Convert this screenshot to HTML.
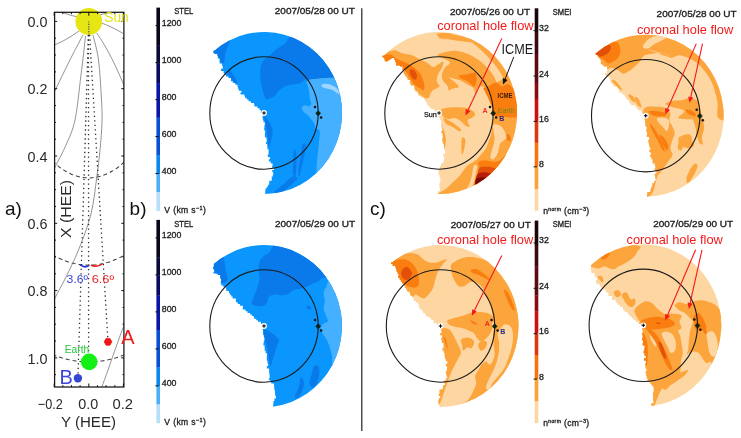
<!DOCTYPE html>
<html><head><meta charset="utf-8"><title>figure</title>
<style>
html,body{margin:0;padding:0;background:#fff;}
body{width:741px;height:438px;overflow:hidden;}
svg{display:block;}
text{font-family:"Liberation Sans",sans-serif;}
</style></head><body>
<svg width="741" height="438" viewBox="0 0 741 438">
<rect width="741" height="438" fill="#fff"/>
<clipPath id="cl1"><path d="M214.2 50.7 A78.0 81.0 0 1 1 264.6 194.0 L264.6 194.0 L265.2 194.0 L265.2 190.6 L265.4 190.6 L265.4 188.6 L266.7 188.6 L266.7 186.7 L267.9 186.7 L267.9 184.7 L269.2 184.7 L269.2 182.7 L269.3 182.7 L269.3 180.7 L271.8 180.7 L271.8 178.7 L271.7 178.7 L271.7 176.5 L272.8 176.5 L272.8 174.4 L273.2 174.4 L273.2 172.2 L272.3 172.2 L272.3 170.0 L274.1 170.0 L274.1 167.9 L272.2 167.9 L272.2 165.7 L272.6 165.7 L272.6 163.5 L270.7 163.5 L270.7 161.4 L268.9 161.4 L268.9 159.2 L269.9 159.2 L269.9 157.0 L267.8 157.0 L267.8 154.4 L268.6 154.4 L268.6 151.8 L268.6 151.8 L268.6 149.2 L267.4 149.2 L267.4 146.6 L267.2 146.6 L267.2 144.0 L266.0 144.0 L266.0 141.9 L266.7 141.9 L266.7 139.7 L266.5 139.7 L266.5 137.5 L264.9 137.5 L264.9 135.4 L264.9 135.4 L264.9 133.2 L265.1 133.2 L265.1 130.5 L264.2 130.5 L264.2 127.8 L264.4 127.8 L264.4 125.1 L264.8 125.1 L264.8 122.3 L263.4 122.3 L263.4 120.0 L262.8 120.0 L262.8 117.7 L262.5 117.7 L262.5 115.3 L263.5 115.3 L264.0 113.0 L260.8 113.0 L260.8 110.0 L259.5 110.0 L259.5 108.2 L257.4 108.2 L257.4 106.5 L254.5 106.5 L254.5 104.8 L254.1 104.8 L254.1 103.0 L250.9 103.0 L250.9 101.3 L248.5 101.3 L248.5 99.6 L246.6 99.6 L246.6 97.8 L245.0 97.8 L245.0 96.1 L244.4 96.1 L244.4 94.4 L240.5 94.4 L240.5 92.6 L241.5 92.6 L241.5 90.7 L238.8 90.7 L238.8 88.7 L237.9 88.7 L237.9 86.8 L237.5 86.8 L237.5 84.8 L235.4 84.8 L235.4 82.9 L232.8 82.9 L232.8 81.2 L230.9 81.2 L230.9 79.6 L231.0 79.6 L231.0 78.0 L228.4 78.0 L228.4 76.4 L226.0 76.4 L226.0 74.7 L224.3 74.7 L224.3 73.1 L223.6 73.1 L223.6 70.9 L221.0 70.9 L221.0 68.8 L222.7 68.8 L222.7 66.1 L222.1 66.1 L222.1 63.4 L219.6 63.4 L219.6 61.2 L219.5 61.2 L219.5 58.5 L217.8 58.5 L217.8 55.8 L217.4 55.8 L217.4 54.1 L214.4 54.1 L214.4 52.4 L213.1 52.4 L213.1 50.7Z"/></clipPath>
<g clip-path="url(#cl1)">
<rect x="184.0" y="30.0" width="160.0" height="166.0" fill="#0a96fc"/>
<path d="M213.0 52.5 C214.5 49.7 225.0 42.2 227.8 40.6 C230.5 39.0 229.6 40.8 229.3 42.8 C228.9 44.8 226.4 49.3 225.6 52.5 C224.8 55.8 224.9 60.5 224.3 62.3 C223.6 64.0 222.5 63.8 221.7 62.9 C220.8 62.1 220.5 59.0 219.1 57.3 C217.6 55.6 211.6 55.3 213.0 52.5Z" fill="#0a7aea" />
<path d="M293.2 35.2 C288.5 35.2 287.6 41.3 284.6 43.8 C281.5 46.4 277.3 48.4 274.8 50.4 C272.3 52.3 271.2 54.1 269.4 55.8 C267.6 57.4 265.4 58.3 264.0 60.1 C262.5 61.9 261.3 63.9 260.7 66.6 C260.1 69.3 260.1 72.9 260.3 76.4 C260.5 79.8 261.2 84.1 261.8 87.2 C262.4 90.3 263.2 92.8 264.0 94.8 C264.7 96.8 265.0 98.6 266.1 99.1 C267.2 99.7 269.0 98.6 270.5 98.0 C271.9 97.5 273.4 97.1 274.8 95.9 C276.2 94.6 277.3 92.1 279.1 90.5 C280.9 88.8 283.3 87.1 285.6 86.1 C288.0 85.1 290.7 85.1 293.2 84.6 C295.8 84.1 298.6 83.8 300.8 82.9 C303.0 81.9 305.0 78.8 306.2 79.0 C307.5 79.2 307.5 82.8 308.4 84.0 C309.3 85.1 310.4 85.8 311.7 86.1 C312.9 86.5 314.4 86.7 316.0 86.1 C317.6 85.6 319.4 83.6 321.4 82.9 C323.4 82.1 325.0 81.8 327.9 81.8 C330.8 81.8 336.9 84.9 338.8 82.9 C340.6 80.9 340.6 74.2 338.8 69.9 C336.9 65.5 332.2 61.2 327.9 56.9 C323.6 52.5 318.5 47.5 312.7 43.8 C307.0 40.2 297.9 35.2 293.2 35.2Z" fill="#0a7aea" />
<path d="M306.5 82.0 C306.9 81.0 308.0 80.0 309.8 79.5 C311.6 79.0 314.8 79.0 317.3 78.7 C319.8 78.5 322.0 78.2 324.7 78.0 C327.4 77.8 330.2 77.7 333.6 77.7 C337.0 77.7 341.9 74.3 345.0 78.0 C348.1 81.7 350.8 88.0 352.0 100.0 C353.2 112.0 354.9 139.8 352.0 150.0 C349.1 160.2 340.0 157.5 334.4 161.4 C328.8 165.3 321.2 172.4 318.2 173.5 C315.2 174.6 316.7 170.7 316.6 167.9 C316.5 165.2 317.1 161.0 317.5 157.0 C317.9 153.0 318.4 148.3 318.8 144.0 C319.2 139.7 320.2 133.6 319.7 131.0 C319.2 128.4 316.7 129.6 315.8 128.4 C314.9 127.2 315.1 125.5 314.3 124.0 C313.6 122.5 312.3 120.9 311.3 119.5 C310.3 118.1 309.6 117.0 308.4 115.8 C307.2 114.6 305.0 113.3 303.9 112.1 C302.8 110.9 301.7 109.5 301.7 108.4 C301.7 107.3 302.7 105.8 303.9 105.4 C305.1 105.0 307.9 106.6 309.1 106.2 C310.3 105.8 311.2 104.5 311.3 103.2 C311.4 102.0 310.2 100.7 309.8 98.7 C309.4 96.7 309.5 93.5 309.1 91.3 C308.7 89.1 308.0 87.0 307.6 85.5 C307.2 84.0 306.1 83.0 306.5 82.0Z" fill="#44b0ff" />
<path d="M321.7 84.6 C322.6 84.1 325.6 83.7 327.6 83.9 C329.6 84.2 331.9 85.1 333.6 86.1 C335.3 87.1 337.0 88.4 338.0 89.8 C339.0 91.2 339.8 93.8 339.5 94.3 C339.2 94.8 337.7 93.5 336.5 92.8 C335.3 92.0 333.8 90.5 332.1 89.8 C330.4 89.1 327.8 88.9 326.2 88.4 C324.6 87.9 323.1 87.5 322.4 86.9 C321.6 86.3 320.8 85.1 321.7 84.6Z" fill="#9ed6ff" />
<path d="M227.9 70.2 C228.3 69.8 230.0 70.2 231.5 72.0 C233.0 73.8 236.2 79.1 237.0 81.1 C237.8 83.1 236.9 84.1 236.1 83.9 C235.3 83.8 233.6 81.7 232.4 80.2 C231.2 78.7 229.6 76.4 228.8 74.7 C228.1 73.0 227.5 70.7 227.9 70.2Z" fill="#0a7aea" />
<path d="M293.7 151.0 C294.1 149.2 295.4 148.8 295.8 150.5 C296.3 152.3 296.5 157.0 296.5 161.4 C296.4 165.7 296.0 174.7 295.4 176.5 C294.8 178.4 293.2 174.7 292.8 172.2 C292.4 169.7 293.1 164.9 293.2 161.4 C293.4 157.8 293.2 152.8 293.7 151.0Z" fill="#0a7aea" />
<path d="M302.3 145.1 C303.2 143.1 305.4 142.4 305.8 144.0 C306.2 145.7 305.1 151.3 304.5 154.9 C303.8 158.5 302.8 162.1 301.9 165.7 C301.0 169.3 299.8 176.2 299.3 176.5 C298.8 176.9 298.4 171.3 298.6 167.9 C298.9 164.4 300.2 159.7 300.8 155.9 C301.4 152.2 301.5 147.1 302.3 145.1Z" fill="#0a7aea" />
<path d="M264.2 115.8 C264.4 114.6 266.2 117.6 267.2 119.1 C268.3 120.5 269.6 122.3 270.5 124.5 C271.4 126.7 272.5 129.4 272.6 132.1 C272.7 134.8 271.7 138.4 271.1 140.8 C270.5 143.1 269.5 146.7 268.9 146.2 C268.4 145.7 268.1 140.8 267.6 137.5 C267.2 134.3 266.7 130.3 266.1 126.7 C265.5 123.1 264.0 117.1 264.2 115.8Z" fill="#0a7aea" />
<path d="M274.8 191.3 C275.5 189.8 279.7 187.5 282.4 185.2 C285.1 182.9 288.9 179.1 291.1 177.6 C293.2 176.2 294.5 176.2 295.4 176.5 C296.3 176.9 297.9 177.8 296.5 179.8 C295.0 181.8 289.8 186.1 286.7 188.5 C283.6 190.8 280.0 193.4 278.0 193.9 C276.1 194.4 274.1 192.7 274.8 191.3Z" fill="#0a7aea" />
</g>
<clipPath id="cl2"><path d="M213.5 264.3 A78.0 81.0 0 1 1 273.8 406.4 L273.8 406.4 L273.1 406.4 L273.1 403.7 L273.5 403.7 L273.5 401.1 L274.4 401.1 L274.4 398.5 L275.9 398.5 L275.9 395.9 L275.2 395.9 L275.2 393.2 L275.0 393.2 L275.0 390.5 L274.4 390.5 L274.4 387.8 L274.1 387.8 L274.1 385.0 L274.0 385.0 L274.0 383.4 L271.2 383.4 L271.2 381.8 L270.4 381.8 L270.4 380.2 L268.9 380.2 L268.9 378.5 L269.6 378.5 L269.6 376.0 L269.6 376.0 L269.6 373.5 L269.1 373.5 L269.1 370.9 L269.1 370.9 L269.1 368.4 L266.8 368.4 L266.8 365.9 L268.1 365.9 L268.1 363.4 L267.5 363.4 L267.5 360.8 L266.8 360.8 L266.8 358.3 L266.8 358.3 L266.8 355.8 L267.0 355.8 L267.0 353.2 L265.6 353.2 L265.6 350.7 L264.7 350.7 L264.7 348.2 L264.6 348.2 L264.6 345.6 L263.4 345.6 L263.4 343.0 L263.8 343.0 L263.8 340.4 L264.4 340.4 L264.4 337.8 L263.9 337.8 L263.9 335.2 L263.1 335.2 L263.1 332.9 L263.0 332.9 L263.0 330.6 L262.7 330.6 L262.7 328.3 L262.5 328.3 L264.0 326.0 L262.8 326.0 L262.8 323.9 L261.0 323.9 L261.0 321.7 L257.9 321.7 L257.9 320.3 L256.2 320.3 L256.2 318.8 L254.1 318.8 L254.1 317.4 L253.7 317.4 L253.7 315.9 L251.8 315.9 L251.8 314.5 L250.1 314.5 L250.1 313.0 L247.5 313.0 L247.5 311.2 L245.5 311.2 L245.5 309.4 L242.7 309.4 L242.7 307.6 L242.9 307.6 L242.9 305.8 L239.9 305.8 L239.9 304.0 L237.7 304.0 L237.7 302.2 L235.9 302.2 L235.9 300.4 L235.9 300.4 L235.9 298.5 L232.6 298.5 L232.6 296.6 L231.2 296.6 L231.2 294.8 L229.8 294.8 L229.8 292.9 L229.0 292.9 L229.0 291.1 L226.3 291.1 L226.3 289.2 L226.0 289.2 L226.0 287.3 L223.4 287.3 L223.4 285.4 L221.3 285.4 L221.3 283.5 L220.7 283.5 L220.7 281.6 L221.1 281.6 L221.1 278.4 L220.3 278.4 L220.3 275.1 L217.7 275.1 L217.7 273.5 L213.4 273.5 L213.4 271.9 L214.3 271.9 L214.3 269.3 L213.3 269.3 L213.3 266.8 L213.9 266.8 L213.9 264.3Z"/></clipPath>
<g clip-path="url(#cl2)">
<rect x="184.0" y="243.0" width="160.0" height="166.0" fill="#0a96fc"/>
<path d="M211.9 264.3 C213.4 261.7 220.5 255.8 222.8 256.7 C225.0 257.6 224.8 265.9 225.6 269.7 C226.4 273.5 228.0 277.3 227.8 279.4 C227.5 281.6 225.5 282.2 224.3 282.7 C223.1 283.2 221.4 283.4 220.6 282.3 C219.8 281.1 220.6 277.4 219.5 275.8 C218.4 274.1 215.4 274.2 214.1 272.3 C212.8 270.4 210.5 266.9 211.9 264.3Z" fill="#0a7aea" />
<path d="M277.0 243.7 C271.5 244.4 271.7 250.2 269.4 252.3 C267.0 254.5 264.6 254.9 262.9 256.7 C261.1 258.5 259.7 260.8 259.0 263.2 C258.2 265.5 258.4 268.2 258.5 270.8 C258.6 273.3 259.8 275.7 259.6 278.4 C259.4 281.1 258.4 284.1 257.5 287.0 C256.5 289.9 255.2 293.0 254.2 295.7 C253.2 298.4 251.4 301.7 251.6 303.3 C251.8 304.9 253.4 305.0 255.3 305.5 C257.2 305.9 260.9 306.7 262.9 306.1 C264.9 305.6 266.2 303.8 267.2 302.2 C268.2 300.7 267.7 298.1 268.9 296.8 C270.2 295.5 272.6 294.9 274.8 294.6 C277.0 294.4 280.0 295.5 282.4 295.3 C284.7 295.1 287.1 294.4 288.9 293.5 C290.7 292.7 291.4 291.1 293.2 290.3 C295.0 289.5 297.6 289.3 299.7 288.8 C301.9 288.2 304.1 287.9 306.2 287.0 C308.4 286.2 310.7 284.7 312.7 283.8 C314.7 282.9 316.7 282.5 318.2 281.6 C319.6 280.7 320.0 279.1 321.4 278.4 C322.9 277.6 325.0 277.3 326.8 277.3 C328.6 277.3 332.1 280.0 332.2 278.4 C332.4 276.7 330.4 271.1 327.9 267.5 C325.4 263.9 321.4 259.9 317.1 256.7 C312.7 253.4 308.6 250.2 301.9 248.0 C295.2 245.8 282.4 242.9 277.0 243.7Z" fill="#0a7aea" />
<path d="M329.0 278.5 C327.5 280.9 327.7 283.0 326.8 285.4 C325.9 287.8 324.0 290.0 323.7 292.6 C323.4 295.2 324.8 298.1 324.8 300.8 C324.8 303.5 323.5 306.6 323.7 309.0 C323.9 311.4 325.1 313.1 325.8 315.2 C326.5 317.2 328.2 319.9 327.9 321.3 C327.5 322.7 324.9 322.4 323.7 323.4 C322.5 324.4 320.9 325.8 320.7 327.5 C320.5 329.2 321.7 331.6 322.7 333.7 C323.7 335.8 325.6 337.4 326.8 339.8 C328.0 342.2 329.0 345.3 329.9 348.0 C330.8 350.7 331.4 352.4 332.0 356.2 C332.6 359.9 331.2 369.0 333.4 370.5 C335.6 372.0 341.9 370.1 345.0 365.0 C348.1 359.9 350.8 350.8 352.0 340.0 C353.2 329.2 353.2 310.0 352.0 300.0 C350.8 290.0 347.7 284.8 345.0 280.0 C342.3 275.2 338.7 271.2 336.0 271.0 C333.3 270.8 330.5 276.1 329.0 278.5Z" fill="#44b0ff" />
<path d="M306.7 306.5 C307.1 306.0 309.4 305.7 310.1 306.1 C310.9 306.5 311.5 308.2 311.0 308.7 C310.5 309.2 308.0 309.5 307.3 309.1 C306.6 308.8 306.2 307.1 306.7 306.5Z" fill="#0a7aea" />
<path d="M264.2 329.8 C265.3 328.7 269.6 331.9 271.5 333.0 C273.5 334.1 274.6 335.0 275.9 336.3 C277.1 337.5 279.0 339.0 279.1 340.6 C279.3 342.2 277.7 344.0 277.0 346.0 C276.2 348.0 275.5 350.2 274.8 352.5 C274.1 354.9 273.4 357.8 272.6 360.1 C271.9 362.5 271.1 366.8 270.5 366.6 C269.8 366.4 269.5 362.1 268.9 359.0 C268.4 356.0 267.9 351.4 267.2 348.2 C266.6 344.9 265.5 342.6 265.0 339.5 C264.5 336.4 263.1 330.8 264.2 329.8Z" fill="#0a7aea" />
<path d="M313.8 366.6 C314.9 365.2 317.3 364.3 318.2 365.5 C319.1 366.8 319.4 371.3 319.2 374.2 C319.1 377.1 318.2 380.7 317.1 382.9 C316.0 385.0 314.0 387.2 312.7 387.2 C311.5 387.2 309.7 385.0 309.5 382.9 C309.3 380.7 310.9 376.9 311.7 374.2 C312.4 371.5 312.7 368.1 313.8 366.6Z" fill="#0a7aea" />
<path d="M300.8 377.5 C301.7 376.7 303.9 380.5 304.1 382.9 C304.2 385.2 303.0 389.0 301.9 391.5 C300.8 394.1 298.7 397.3 297.6 398.0 C296.4 398.8 294.8 398.1 295.0 396.3 C295.1 394.5 297.7 390.4 298.6 387.2 C299.6 384.1 299.9 378.2 300.8 377.5Z" fill="#0a7aea" />
</g>
<clipPath id="cl3"><path d="M384.0 55.6 A78.0 81.0 0 1 1 439.6 194.0 L439.6 194.0 L438.0 194.0 L438.0 191.3 L439.9 191.3 L439.9 188.5 L439.6 188.5 L439.6 185.8 L439.3 185.8 L439.3 183.0 L440.2 183.0 L440.2 180.4 L440.4 180.4 L440.4 177.8 L439.7 177.8 L439.7 175.2 L438.6 175.2 L438.6 172.6 L438.6 172.6 L438.6 170.0 L439.4 170.0 L439.4 167.9 L440.0 167.9 L440.0 165.7 L441.0 165.7 L441.0 163.5 L443.1 163.5 L443.1 161.4 L443.8 161.4 L443.8 159.2 L444.1 159.2 L444.1 156.6 L443.4 156.6 L443.4 154.0 L445.1 154.0 L445.1 151.4 L444.8 151.4 L444.8 148.8 L444.2 148.8 L444.2 146.2 L443.8 146.2 L443.8 143.6 L442.8 143.6 L442.8 141.0 L442.3 141.0 L442.3 138.4 L442.7 138.4 L442.7 135.8 L442.7 135.8 L442.7 133.2 L441.5 133.2 L441.5 131.0 L442.4 131.0 L442.4 128.8 L442.1 128.8 L442.1 126.7 L441.6 126.7 L441.6 124.5 L441.3 124.5 L441.3 122.3 L441.1 122.3 L441.1 120.0 L440.2 120.0 L440.2 117.7 L438.2 117.7 L438.2 115.3 L437.9 115.3 L439.0 113.0 L437.9 113.0 L437.9 112.1 L435.4 112.1 L435.4 110.5 L434.1 110.5 L434.1 108.9 L430.7 108.9 L430.7 107.3 L429.3 107.3 L429.3 105.6 L427.3 105.6 L427.3 103.7 L426.6 103.7 L426.6 101.7 L425.3 101.7 L425.3 99.8 L423.9 99.8 L423.9 97.8 L421.0 97.8 L421.0 95.9 L418.2 95.9 L418.2 93.7 L417.8 93.7 L417.8 91.5 L415.2 91.5 L415.2 89.4 L414.5 89.4 L414.5 87.2 L414.3 87.2 L414.3 85.4 L410.7 85.4 L410.7 83.6 L409.8 83.6 L409.8 81.8 L410.2 81.8 L410.2 80.0 L407.5 80.0 L407.5 78.2 L406.5 78.2 L406.5 76.4 L404.8 76.4 L404.8 74.4 L403.7 74.4 L403.7 72.5 L403.6 72.5 L403.6 70.5 L402.4 70.5 L402.4 68.6 L402.7 68.6 L402.7 66.6 L400.1 66.6 L400.1 65.5 L396.2 65.5 L396.2 64.4 L396.0 64.4 L396.0 62.3 L395.3 62.3 L395.3 60.1 L394.3 60.1 L394.3 57.9 L391.5 57.9 L391.5 59.0 L390.2 59.0 L390.2 60.1 L388.3 60.1 L388.3 61.2 L384.8 61.2 L384.8 59.3 L384.3 59.3 L384.3 57.5 L382.3 57.5 L382.3 55.6Z"/></clipPath>
<g clip-path="url(#cl3)">
<rect x="359.0" y="30.0" width="160.0" height="166.0" fill="#fdd6a2"/>
<path d="M380.8 55.2 C382.6 53.0 389.9 50.7 393.4 50.4 C397.0 50.0 399.1 52.5 402.2 53.3 C405.2 54.1 408.9 54.2 411.9 55.2 C414.8 56.2 417.0 57.8 419.6 59.1 C422.2 60.4 425.1 61.7 427.4 63.0 C429.6 64.3 431.2 66.7 433.2 66.9 C435.1 67.0 437.3 64.8 439.0 63.9 C440.7 63.1 442.8 61.0 443.3 61.6 C443.8 62.3 442.8 65.7 441.9 67.8 C441.0 70.0 438.9 72.3 438.0 74.6 C437.2 76.9 436.5 79.5 436.7 81.4 C436.9 83.3 440.0 84.8 439.4 86.2 C438.8 87.7 434.7 88.8 433.2 90.1 C431.7 91.4 430.9 92.8 430.3 94.0 C429.6 95.2 430.1 96.6 429.3 97.3 C428.6 98.0 427.3 98.7 425.8 98.3 C424.4 97.9 422.9 96.8 420.6 95.0 C418.3 93.1 414.3 90.3 411.9 87.2 C409.4 84.1 408.3 79.6 406.0 76.6 C403.8 73.5 400.5 71.1 398.3 68.8 C396.0 66.5 395.0 63.8 392.5 63.0 C389.9 62.2 384.7 65.2 382.8 63.9 C380.8 62.7 379.0 57.5 380.8 55.2Z" fill="#fca53c" />
<path d="M437.1 33.9 C438.2 33.1 443.5 33.2 446.8 33.1 C450.0 33.0 456.0 33.4 456.5 33.5 C456.9 33.6 447.7 32.8 449.4 33.5 C451.1 34.2 463.0 36.3 466.9 37.8 C470.7 39.2 473.6 41.5 472.3 42.0 C471.0 42.5 463.2 41.4 459.1 40.9 C455.0 40.3 451.0 39.3 447.5 38.9 C443.9 38.5 437.9 38.4 437.8 38.5 C437.6 38.7 446.4 39.8 446.8 39.7 C447.1 39.6 441.6 38.7 440.0 37.8 C438.4 36.8 435.9 34.7 437.1 33.9Z" fill="#fca53c" />
<path d="M449.7 62.0 C450.9 64.1 446.1 65.7 444.8 67.8 C443.5 69.9 442.2 72.5 441.9 74.6 C441.6 76.7 441.9 78.5 442.9 80.4 C443.9 82.4 446.8 84.6 447.7 86.2 C448.7 87.9 447.9 90.1 448.7 90.5 C449.5 90.9 451.0 89.4 452.6 88.6 C454.2 87.8 460.2 88.5 458.4 85.7 C456.6 82.9 443.5 73.2 441.6 71.7 C439.8 70.2 445.5 75.4 447.5 76.6 C449.4 77.7 451.0 77.8 453.3 78.5 C455.5 79.2 458.4 79.7 461.0 80.8 C463.6 82.0 466.7 84.1 468.8 85.3 C470.9 86.5 472.5 86.7 473.6 88.2 C474.8 89.6 474.9 94.0 475.6 94.0 C476.2 94.0 476.6 89.5 477.5 88.2 C478.5 86.9 479.9 86.2 481.4 86.2 C482.9 86.2 484.5 87.9 486.2 88.2 C488.0 88.5 490.1 88.8 492.1 88.2 C494.0 87.5 497.1 85.1 497.9 84.3 C498.7 83.5 497.6 84.6 496.9 83.3 C496.3 82.0 495.5 79.0 494.0 76.6 C492.6 74.1 490.6 71.4 488.2 68.8 C485.8 66.1 482.7 63.1 479.5 60.6 C476.2 58.2 472.5 55.9 468.8 54.2 C465.1 52.6 460.7 51.4 457.2 50.9 C453.6 50.5 450.7 51.0 447.5 51.7 C444.2 52.4 437.4 53.5 437.8 55.2 C438.1 56.9 448.5 59.9 449.7 62.0Z" fill="#fca53c" />
<path d="M467.8 37.4 C469.3 37.6 476.1 40.8 480.4 43.6 C484.8 46.4 489.5 50.2 494.0 54.2 C498.5 58.3 503.7 62.8 507.6 67.8 C511.5 72.8 514.7 79.0 517.3 84.3 C519.9 89.6 521.8 94.5 523.1 99.8 C524.4 105.2 529.9 113.6 525.0 116.3 C520.2 119.1 499.5 117.8 494.0 116.3 C488.5 114.9 493.0 110.7 492.1 107.6 C491.1 104.5 489.3 100.5 488.2 97.9 C487.1 95.3 485.3 93.9 485.3 92.1 C485.3 90.2 486.4 88.2 488.2 86.6 C490.0 85.1 493.5 84.1 495.9 82.8 C498.4 81.4 502.1 80.3 502.7 78.5 C503.4 76.6 501.1 74.0 499.8 71.7 C498.5 69.4 496.9 67.3 495.0 64.9 C493.0 62.5 490.6 59.7 488.2 57.2 C485.8 54.6 483.2 51.9 480.4 49.4 C477.7 46.9 473.8 44.0 471.7 42.0 C469.6 40.0 466.4 37.1 467.8 37.4Z" fill="#fca53c" />
<path d="M441.5 109.3 C443.5 107.9 450.2 107.3 454.5 107.2 C458.8 107.0 464.1 107.2 467.5 108.3 C471.0 109.3 474.4 112.0 475.1 113.7 C475.8 115.3 473.1 116.9 471.9 118.0 C470.6 119.1 467.9 118.7 467.5 120.2 C467.2 121.6 470.0 125.8 469.7 126.7 C469.3 127.6 466.8 126.5 465.4 125.6 C463.9 124.7 462.8 122.5 461.0 121.3 C459.2 120.0 456.7 118.4 454.5 118.0 C452.3 117.6 450.0 119.5 448.0 119.1 C446.0 118.7 443.7 117.5 442.6 115.8 C441.5 114.2 439.5 110.8 441.5 109.3Z" fill="#fca53c" />
<path d="M443.7 118.0 C444.4 117.6 448.0 120.0 450.2 121.3 C452.3 122.5 454.9 124.2 456.7 125.6 C458.5 127.0 460.7 129.0 461.0 129.9 C461.4 130.8 460.3 131.6 458.8 131.0 C457.4 130.5 454.5 127.9 452.3 126.7 C450.2 125.4 447.3 124.9 445.8 123.4 C444.4 122.0 442.9 118.4 443.7 118.0Z" fill="#fca53c" />
<path d="M437.2 116.9 C437.8 116.9 440.2 121.8 441.5 124.5 C442.8 127.2 444.0 130.3 444.8 133.2 C445.5 136.1 446.0 138.6 445.8 141.9 C445.7 145.1 444.4 149.4 443.7 152.7 C442.9 155.9 442.6 158.5 441.5 161.4 C440.4 164.3 438.1 170.8 437.2 170.0 C436.3 169.3 435.5 161.4 436.1 157.0 C436.6 152.7 439.7 148.0 440.4 144.0 C441.1 140.0 440.7 136.4 440.2 133.2 C439.7 129.9 438.1 127.2 437.6 124.5 C437.1 121.8 436.5 116.9 437.2 116.9Z" fill="#fca53c" />
<path d="M462.1 137.5 C462.8 136.4 465.0 137.9 465.4 139.7 C465.7 141.5 464.8 145.8 464.3 148.4 C463.7 150.9 462.6 155.2 462.1 154.9 C461.6 154.5 461.4 149.1 461.4 146.2 C461.4 143.3 461.4 138.6 462.1 137.5Z" fill="#fca53c" />
<path d="M492.5 120.2 C491.4 123.1 492.3 127.8 491.8 131.0 C491.3 134.3 490.2 136.8 489.2 139.7 C488.2 142.6 487.2 146.0 485.9 148.4 C484.7 150.7 483.1 152.0 481.6 153.8 C480.1 155.6 478.6 157.8 477.1 159.2 C475.5 160.6 474.0 161.4 472.5 162.5 C471.0 163.5 469.4 164.0 468.0 165.3 C466.5 166.5 465.3 168.3 464.1 169.8 C462.8 171.3 462.0 172.7 460.6 174.4 C459.2 176.0 457.4 178.0 455.6 179.8 C453.8 181.6 451.7 183.7 449.7 185.4 C447.8 187.1 445.9 188.7 444.1 190.0 C442.3 191.3 440.8 192.0 438.9 193.0 C437.0 194.0 433.5 194.1 432.8 196.1 C432.2 198.0 427.4 204.4 435.0 204.7 C442.6 205.1 466.8 203.3 478.4 198.2 C489.9 193.2 497.1 182.7 504.4 174.4 C511.6 166.1 518.1 156.3 521.7 148.4 C525.3 140.4 525.3 133.9 526.1 126.7 C526.8 119.5 530.4 108.6 526.1 105.0 C521.7 101.4 504.7 103.6 500.0 105.0 C495.3 106.4 499.1 111.1 497.9 113.7 C496.6 116.2 493.5 117.3 492.5 120.2Z" fill="#fca53c" />
<path d="M493.5 124.5 C494.6 123.6 498.2 124.5 500.0 125.6 C501.8 126.7 503.3 129.0 504.4 131.0 C505.5 133.0 506.7 135.9 506.5 137.5 C506.4 139.1 504.4 139.7 503.3 140.8 C502.2 141.9 500.9 142.0 500.0 144.0 C499.1 146.0 499.0 150.2 497.9 152.7 C496.8 155.2 494.8 158.5 493.5 159.2 C492.3 159.9 490.5 158.8 490.3 157.0 C490.1 155.2 491.7 151.3 492.5 148.4 C493.2 145.5 494.4 142.6 494.6 139.7 C494.8 136.8 493.7 133.5 493.5 131.0 C493.4 128.5 492.5 125.4 493.5 124.5Z" fill="#fdd6a2" />
<path d="M473.8 165.9 C474.7 164.3 476.8 164.3 477.1 165.9 C477.3 167.5 476.0 172.4 475.3 175.5 C474.7 178.5 474.2 181.4 473.2 184.1 C472.1 186.9 470.6 190.8 469.3 192.2 C467.9 193.5 465.1 193.5 465.1 192.2 C465.1 190.8 468.1 186.9 469.3 184.1 C470.4 181.4 471.1 178.5 471.9 175.5 C472.6 172.4 472.9 167.5 473.8 165.9Z" fill="#fdd6a2" />
<path d="M382.8 56.2 C383.7 54.9 388.1 54.0 390.5 54.4 C392.9 54.9 395.0 57.8 397.3 59.1 C399.6 60.4 401.7 60.9 404.1 62.0 C406.5 63.1 409.4 64.3 411.9 65.9 C414.3 67.5 416.9 69.6 418.6 71.7 C420.4 73.8 421.6 76.1 422.5 78.5 C423.5 80.9 424.3 84.2 424.5 86.2 C424.6 88.3 424.1 90.1 423.5 90.5 C422.8 90.9 422.0 89.5 420.6 88.6 C419.1 87.7 416.5 87.0 414.8 85.3 C413.0 83.6 411.4 80.8 409.9 78.5 C408.5 76.2 407.5 73.5 406.0 71.7 C404.6 69.9 402.8 68.8 401.2 67.8 C399.6 66.9 398.1 67.0 396.3 65.9 C394.6 64.8 392.5 61.7 390.5 61.0 C388.6 60.4 386.0 62.8 384.7 62.0 C383.4 61.2 381.8 57.4 382.8 56.2Z" fill="#fa7d0f" />
<path d="M459.1 75.6 C460.2 74.9 465.2 74.6 467.8 74.2 C470.5 73.8 473.5 72.2 475.0 73.1 C476.5 73.9 476.7 77.3 476.6 79.5 C476.4 81.7 475.7 85.9 474.2 86.2 C472.8 86.6 470.0 82.7 467.8 81.4 C465.6 80.1 462.5 79.5 461.0 78.5 C459.6 77.5 458.0 76.3 459.1 75.6Z" fill="#fa7d0f" />
<path d="M483.3 88.2 C483.8 87.2 486.1 87.2 488.2 86.2 C490.3 85.3 493.7 82.4 495.9 82.4 C498.2 82.4 499.8 86.0 501.8 86.2 C503.7 86.5 505.8 83.7 507.6 83.9 C509.4 84.2 510.8 85.8 512.4 87.8 C514.1 89.8 515.8 92.7 517.3 95.9 C518.7 99.2 520.2 104.2 521.2 107.6 C522.1 111.0 527.5 114.9 523.1 116.3 C518.7 117.8 500.2 117.8 495.0 116.3 C489.8 114.9 493.2 110.7 492.1 107.6 C490.9 104.5 489.3 100.5 488.2 97.9 C487.1 95.3 486.1 93.7 485.3 92.1 C484.5 90.5 482.9 89.2 483.3 88.2Z" fill="#fa7d0f" />
<path d="M506.5 134.3 C506.9 133.4 509.1 134.4 509.8 135.4 C510.5 136.3 511.2 138.8 510.9 139.7 C510.5 140.6 508.4 141.7 507.6 140.8 C506.9 139.9 506.2 135.2 506.5 134.3Z" fill="#fa7d0f" />
<path d="M478.4 162.5 C479.3 161.0 482.3 160.4 484.9 160.3 C487.4 160.2 491.0 161.8 493.5 161.8 C496.1 161.8 497.9 161.5 500.0 160.3 C502.2 159.1 504.7 155.2 506.5 154.4 C508.4 153.7 510.7 154.3 510.9 155.9 C511.1 157.6 509.3 161.9 507.6 164.6 C506.0 167.3 503.5 169.9 501.1 172.2 C498.8 174.6 495.9 176.9 493.5 178.7 C491.2 180.5 489.6 181.8 487.0 183.0 C484.5 184.3 480.6 185.9 478.4 186.3 C476.1 186.7 473.8 187.3 473.6 185.7 C473.4 184.0 476.3 179.3 477.3 176.5 C478.3 173.8 479.3 171.3 479.4 169.0 C479.6 166.6 477.5 163.9 478.4 162.5Z" fill="#fa7d0f" />
<path d="M409.9 69.8 C410.5 69.0 412.7 69.0 413.8 69.8 C414.9 70.6 416.3 73.0 416.7 74.6 C417.1 76.2 416.8 78.8 416.1 79.5 C415.5 80.1 413.8 79.4 412.8 78.5 C411.9 77.6 410.8 75.7 410.3 74.2 C409.8 72.8 409.3 70.5 409.9 69.8Z" fill="#e2500a" />
<path d="M479.4 167.9 C481.1 166.2 484.7 166.8 487.0 166.8 C489.4 166.8 491.7 167.3 493.5 167.9 C495.4 168.4 498.1 168.7 498.3 170.0 C498.5 171.4 496.3 174.3 494.6 176.1 C492.9 177.9 490.8 179.4 488.1 180.9 C485.4 182.3 480.2 185.5 478.4 184.8 C476.6 184.1 477.1 179.4 477.3 176.5 C477.5 173.7 477.8 169.5 479.4 167.9Z" fill="#e2500a" />
<path d="M477.3 174.4 C478.6 172.3 481.6 172.4 483.8 172.2 C485.9 172.0 488.7 172.9 490.3 173.3 C491.8 173.7 493.4 173.8 493.1 174.8 C492.9 175.9 490.7 178.2 488.8 179.6 C486.9 181.0 483.8 182.2 481.6 183.0 C479.4 183.9 476.5 186.2 475.8 184.8 C475.0 183.3 475.9 176.5 477.3 174.4Z" fill="#b81e08" />
<path d="M476.2 178.7 C477.2 177.5 479.9 177.7 481.6 177.6 C483.3 177.6 486.5 177.5 486.6 178.3 C486.7 179.0 484.1 181.1 482.3 182.2 C480.5 183.3 476.8 185.4 475.8 184.8 C474.7 184.2 475.2 179.9 476.2 178.7Z" fill="#7a0a08" />
</g>
<clipPath id="cl4"><path d="M595.9 53.3 A78.0 81.0 0 1 1 646.0 196.7 L646.0 196.7 L647.0 196.7 L647.0 194.3 L647.3 194.3 L647.3 191.9 L650.4 191.9 L650.4 189.6 L650.9 189.6 L650.9 187.4 L651.9 187.4 L651.9 185.2 L652.5 185.2 L652.5 183.0 L654.2 183.0 L654.2 180.9 L655.7 180.9 L655.7 178.7 L655.3 178.7 L655.3 176.1 L654.8 176.1 L654.8 173.5 L656.5 173.5 L656.5 170.9 L654.8 170.9 L654.8 168.3 L655.4 168.3 L655.4 165.7 L654.9 165.7 L654.9 163.5 L652.6 163.5 L652.6 161.4 L652.6 161.4 L652.6 159.2 L651.4 159.2 L651.4 157.0 L650.1 157.0 L650.1 154.9 L650.9 154.9 L650.9 152.3 L649.4 152.3 L649.4 149.8 L650.4 149.8 L650.4 147.3 L649.3 147.3 L649.3 144.7 L648.8 144.7 L648.8 142.2 L648.3 142.2 L648.3 139.7 L649.2 139.7 L649.2 137.1 L646.8 137.1 L646.8 134.5 L647.1 134.5 L647.1 131.9 L646.3 131.9 L646.3 129.3 L646.7 129.3 L646.7 126.7 L645.5 126.7 L645.5 124.5 L645.4 124.5 L645.4 122.3 L645.0 122.3 L645.0 120.1 L644.6 120.1 L644.6 117.9 L645.8 117.9 L645.7 115.7 L644.5 115.7 L644.5 113.9 L642.0 113.9 L642.0 112.1 L641.2 112.1 L641.2 110.4 L638.3 110.4 L638.3 108.7 L636.6 108.7 L636.6 106.9 L635.5 106.9 L635.5 105.2 L631.2 105.2 L631.2 103.5 L629.6 103.5 L629.6 101.7 L628.9 101.7 L628.9 99.9 L626.6 99.9 L626.6 98.0 L625.5 98.0 L625.5 96.2 L624.5 96.2 L624.5 94.4 L622.3 94.4 L622.3 92.6 L618.9 92.6 L618.9 90.7 L618.8 90.7 L618.8 88.7 L617.3 88.7 L617.3 86.8 L613.7 86.8 L613.7 84.8 L611.9 84.8 L611.9 82.9 L610.5 82.9 L610.5 80.9 L610.4 80.9 L610.4 79.0 L609.4 79.0 L609.4 77.0 L606.5 77.0 L606.5 75.1 L605.0 75.1 L605.0 73.1 L607.0 73.1 L607.0 69.9 L607.1 69.9 L607.1 66.6 L603.8 66.6 L603.8 65.5 L602.7 65.5 L602.7 64.4 L600.7 64.4 L600.7 62.3 L600.9 62.3 L600.9 60.1 L600.1 60.1 L600.1 58.4 L598.8 58.4 L598.8 56.7 L597.7 56.7 L597.7 55.0 L595.7 55.0 L595.7 53.3Z"/></clipPath>
<g clip-path="url(#cl4)">
<rect x="565.7" y="32.7" width="160.0" height="166.0" fill="#fdd6a2"/>
<path d="M592.8 53.3 C593.2 49.3 599.2 43.3 604.4 39.8 C609.6 36.2 617.3 33.9 623.8 32.0 C630.3 30.1 637.3 28.8 643.2 28.1 C649.1 27.5 651.8 26.8 659.4 28.1 C666.9 29.4 679.4 31.4 688.5 35.9 C697.5 40.4 706.9 47.5 713.7 55.3 C720.5 63.0 726.0 71.9 729.2 82.4 C732.5 92.9 734.9 112.3 733.1 118.3 C731.3 124.3 721.1 120.7 718.6 118.3 C716.0 115.9 718.1 107.8 717.6 103.8 C717.1 99.7 716.5 97.3 715.6 94.1 C714.8 90.8 714.0 87.4 712.7 84.4 C711.4 81.3 709.7 78.4 707.9 75.6 C706.1 72.9 704.3 70.3 702.1 67.9 C699.8 65.5 696.9 62.9 694.3 61.1 C691.7 59.3 689.1 58.2 686.6 57.2 C684.0 56.2 681.1 55.3 678.8 55.3 C676.5 55.3 675.2 57.4 673.0 57.2 C670.7 57.1 668.1 55.3 665.2 54.3 C662.3 53.3 658.4 52.2 655.5 51.4 C652.6 50.6 645.0 48.3 647.8 49.5 C650.6 50.6 669.2 57.4 672.3 58.2 C675.4 59.0 668.7 55.1 666.5 54.3 C664.2 53.5 661.6 53.3 658.7 53.3 C655.8 53.3 651.6 53.8 649.0 54.3 C646.4 54.8 644.6 55.1 643.2 56.2 C641.7 57.4 641.6 59.5 640.3 61.1 C639.0 62.7 637.2 64.3 635.4 65.9 C633.7 67.6 631.7 69.5 629.6 70.8 C627.5 72.1 624.6 73.7 622.8 73.7 C621.0 73.7 620.7 71.8 618.9 70.8 C617.2 69.8 614.4 68.1 612.2 67.9 C609.9 67.6 607.1 69.9 605.4 69.2 C603.6 68.6 603.6 66.7 601.5 64.0 C599.4 61.4 592.3 57.4 592.8 53.3Z" fill="#fca53c" />
<path d="M611.8 80.5 C611.3 79.3 614.3 79.9 616.0 81.5 C617.8 83.0 621.8 88.4 622.2 89.6 C622.7 90.8 620.7 90.2 618.9 88.6 C617.2 87.1 612.3 81.7 611.8 80.5Z" fill="#fca53c" />
<path d="M628.1 94.7 C628.3 93.9 631.4 94.7 632.7 96.0 C634.0 97.3 636.0 101.5 635.8 102.2 C635.6 102.9 632.8 101.5 631.6 100.3 C630.3 99.0 627.9 95.4 628.1 94.7Z" fill="#fca53c" />
<path d="M635.0 97.6 C635.2 96.5 637.4 97.3 638.5 98.9 C639.6 100.5 641.8 106.2 641.6 107.3 C641.4 108.3 638.5 106.7 637.4 105.1 C636.3 103.5 634.8 98.6 635.0 97.6Z" fill="#fca53c" />
<path d="M665.2 103.8 C665.5 102.8 670.1 101.5 673.0 100.9 C675.9 100.2 680.1 100.4 682.7 99.9 C685.3 99.4 686.6 98.1 688.5 97.9 C690.4 97.8 692.7 98.3 694.3 98.9 C695.9 99.6 697.2 100.0 698.2 101.8 C699.2 103.6 700.4 106.8 700.5 109.6 C700.7 112.3 702.8 116.9 699.2 118.3 C695.5 119.8 681.2 119.4 678.8 118.3 C676.4 117.2 684.6 113.1 684.6 111.5 C684.6 109.9 681.1 109.4 678.8 108.6 C676.5 107.8 673.3 107.5 671.0 106.7 C668.8 105.9 664.9 104.7 665.2 103.8Z" fill="#fca53c" />
<path d="M644.3 108.3 C646.7 105.7 653.7 106.7 657.3 106.7 C661.0 106.7 663.8 107.1 666.0 108.3 C668.2 109.4 669.8 111.7 670.4 113.7 C670.9 115.7 668.9 118.0 669.3 120.2 C669.6 122.3 671.6 124.5 672.5 126.7 C673.4 128.8 674.7 131.0 674.7 133.2 C674.7 135.4 673.2 137.2 672.5 139.7 C671.8 142.2 670.4 145.8 670.4 148.4 C670.4 150.9 672.9 152.7 672.5 154.9 C672.2 157.0 669.6 159.2 668.2 161.4 C666.7 163.5 665.1 166.1 663.8 167.9 C662.6 169.7 661.7 170.8 660.6 172.2 C659.5 173.7 658.6 173.3 657.3 176.5 C656.1 179.8 654.5 188.4 653.0 191.7 C651.6 195.0 650.1 195.3 648.7 196.5 C647.2 197.6 644.7 200.9 644.3 198.7 C644.0 196.4 645.1 187.5 646.5 183.0 C647.9 178.6 652.3 176.2 653.0 172.2 C653.7 168.2 651.9 162.1 650.8 159.2 C649.8 156.3 647.4 157.4 646.5 154.9 C645.6 152.3 645.8 148.0 645.4 144.0 C645.1 140.0 644.7 134.6 644.3 131.0 C644.0 127.4 643.3 126.1 643.3 122.3 C643.3 118.6 642.0 110.9 644.3 108.3Z" fill="#fca53c" />
<path d="M679.0 137.5 C680.4 136.3 684.6 134.6 686.6 134.3 C688.6 133.9 690.0 134.3 690.9 135.4 C691.9 136.4 691.5 139.1 692.0 140.8 C692.6 142.4 694.6 143.8 694.2 145.1 C693.8 146.4 691.7 148.0 689.9 148.4 C688.1 148.7 684.8 146.9 683.4 147.3 C681.9 147.6 682.1 150.3 681.2 150.5 C680.3 150.7 678.4 149.8 677.9 148.4 C677.5 146.9 678.4 143.7 678.6 141.9 C678.8 140.0 677.7 138.8 679.0 137.5Z" fill="#fca53c" />
<path d="M686.6 109.3 C687.3 108.4 690.0 107.9 692.0 108.3 C694.0 108.6 696.7 109.5 698.5 111.5 C700.3 113.5 702.0 117.3 702.9 120.2 C703.8 123.1 704.1 126.0 704.0 128.8 C703.8 131.7 702.0 135.0 701.8 137.5 C701.6 140.0 703.2 143.1 702.9 144.0 C702.5 144.9 700.6 144.4 699.6 142.9 C698.6 141.5 697.5 138.1 696.8 135.4 C696.1 132.6 696.1 129.6 695.3 126.7 C694.5 123.8 693.2 120.2 692.0 118.0 C690.8 115.8 689.0 115.1 688.1 113.7 C687.2 112.2 686.0 110.2 686.6 109.3Z" fill="#fca53c" />
<path d="M690.9 167.9 C692.0 166.4 694.2 163.9 695.3 163.5 C696.4 163.2 697.5 164.3 697.5 165.7 C697.5 167.1 696.4 169.9 695.3 172.2 C694.2 174.6 692.3 178.0 690.9 179.8 C689.6 181.6 688.0 183.4 687.3 183.0 C686.5 182.7 686.4 179.4 686.6 177.6 C686.9 175.8 688.1 173.8 688.8 172.2 C689.5 170.6 689.9 169.3 690.9 167.9Z" fill="#fca53c" />
<path d="M642.9 47.0 C642.8 45.6 645.1 42.2 646.9 40.5 C648.6 38.8 651.0 37.5 653.4 36.6 C655.8 35.8 659.1 35.4 661.5 35.4 C663.9 35.4 667.7 35.7 668.0 36.4 C668.3 37.1 665.3 38.5 663.1 39.7 C660.9 40.9 657.6 42.2 655.0 43.7 C652.4 45.2 649.7 48.1 647.7 48.6 C645.7 49.1 643.0 48.4 642.9 47.0Z" fill="#fdd6a2" />
<path d="M657.3 118.0 C658.6 117.3 664.0 117.3 666.0 118.0 C668.0 118.7 669.1 120.2 669.3 122.3 C669.4 124.5 668.2 130.3 667.1 131.0 C666.0 131.7 664.2 128.1 662.8 126.7 C661.3 125.2 659.3 123.8 658.4 122.3 C657.5 120.9 656.1 118.7 657.3 118.0Z" fill="#fdd6a2" />
<path d="M594.7 53.7 C596.2 51.5 604.6 46.0 608.3 44.0 C612.0 42.1 615.0 41.2 617.0 42.1 C619.0 43.0 620.0 47.1 620.3 49.5 C620.6 51.8 620.0 54.3 618.9 56.2 C617.9 58.2 615.9 59.9 614.1 61.1 C612.3 62.3 610.1 63.7 608.3 63.4 C606.5 63.2 604.9 60.5 603.4 59.5 C602.0 58.6 601.0 58.6 599.5 57.6 C598.1 56.6 593.2 56.0 594.7 53.7Z" fill="#fa7d0f" />
<path d="M685.6 109.6 C686.1 109.2 688.7 109.7 690.4 110.6 C692.2 111.4 695.9 113.6 696.2 114.4 C696.6 115.3 693.8 116.0 692.4 115.8 C690.9 115.6 688.7 114.1 687.5 113.1 C686.4 112.0 685.1 110.0 685.6 109.6Z" fill="#fa7d0f" />
<path d="M649.8 123.4 C649.8 122.5 651.6 124.7 653.0 126.7 C654.5 128.7 656.8 132.5 658.4 135.4 C660.1 138.2 661.7 141.3 662.8 144.0 C663.8 146.7 665.1 150.9 664.9 151.6 C664.8 152.3 662.9 150.3 661.7 148.4 C660.4 146.4 658.8 142.4 657.3 139.7 C655.9 137.0 654.3 134.8 653.0 132.1 C651.7 129.4 649.8 124.3 649.8 123.4Z" fill="#fa7d0f" />
<path d="M659.5 135.4 C659.7 134.3 662.4 135.9 663.8 137.5 C665.3 139.1 667.6 142.9 668.2 145.1 C668.7 147.3 668.0 150.7 667.1 150.5 C666.2 150.3 664.0 146.6 662.8 144.0 C661.5 141.5 659.3 136.4 659.5 135.4Z" fill="#fa7d0f" />
<path d="M648.7 111.5 C649.0 110.8 652.6 110.9 655.2 111.1 C657.7 111.3 662.0 111.8 663.8 112.6 C665.7 113.4 666.7 115.2 666.0 115.8 C665.3 116.5 661.7 116.3 659.5 116.3 C657.3 116.2 654.8 116.2 653.0 115.4 C651.2 114.6 648.3 112.2 648.7 111.5Z" fill="#fa7d0f" />
<path d="M688.8 110.4 C689.0 109.9 692.0 110.6 693.1 111.5 C694.2 112.4 695.5 115.3 695.3 115.8 C695.1 116.4 693.1 115.7 692.0 114.8 C690.9 113.9 688.6 111.0 688.8 110.4Z" fill="#fa7d0f" />
<path d="M595.7 53.3 C596.5 51.6 602.9 47.3 605.4 46.0 C607.9 44.7 609.9 44.7 610.6 45.6 C611.3 46.5 610.5 49.8 609.4 51.4 C608.4 53.0 605.9 54.4 604.4 55.3 C602.9 56.1 602.0 56.8 600.5 56.4 C599.1 56.1 594.9 55.1 595.7 53.3Z" fill="#e2500a" />
</g>
<clipPath id="cl5"><path d="M392.4 262.2 A78.0 81.0 0 1 1 439.0 407.0 L439.0 407.0 L439.6 407.0 L439.6 404.8 L438.6 404.8 L438.6 402.6 L438.2 402.6 L438.2 400.4 L438.8 400.4 L438.8 398.2 L440.3 398.2 L440.3 396.0 L438.8 396.0 L438.8 393.8 L439.6 393.8 L439.6 391.6 L439.5 391.6 L439.5 389.4 L442.7 389.4 L442.7 387.2 L443.3 387.2 L443.3 385.0 L444.9 385.0 L444.9 382.9 L443.7 382.9 L443.7 380.7 L445.9 380.7 L445.9 378.5 L447.3 378.5 L447.3 376.4 L446.5 376.4 L446.5 373.8 L445.8 373.8 L445.8 371.3 L446.8 371.3 L446.8 368.8 L447.1 368.8 L447.1 366.3 L445.8 366.3 L445.8 363.7 L447.5 363.7 L447.5 361.2 L445.9 361.2 L445.9 359.0 L445.0 359.0 L445.0 356.9 L444.7 356.9 L444.7 354.7 L444.5 354.7 L444.5 352.5 L443.7 352.5 L443.7 350.4 L442.4 350.4 L442.4 348.2 L443.7 348.2 L443.7 345.6 L443.6 345.6 L443.6 343.0 L441.9 343.0 L441.9 340.4 L441.3 340.4 L441.3 337.8 L442.2 337.8 L442.2 335.2 L440.1 335.2 L440.1 332.9 L441.6 332.9 L441.6 330.6 L441.1 330.6 L441.1 328.3 L439.0 328.3 L440.5 326.0 L438.7 326.0 L438.7 325.0 L436.9 325.0 L436.9 323.3 L433.6 323.3 L433.6 321.7 L433.6 321.7 L433.6 320.1 L431.4 320.1 L431.4 318.5 L429.5 318.5 L429.5 316.7 L426.4 316.7 L426.4 314.9 L425.2 314.9 L425.2 313.0 L423.1 313.0 L423.1 311.2 L422.4 311.2 L422.4 309.4 L420.0 309.4 L420.0 307.6 L418.7 307.6 L418.7 305.9 L419.0 305.9 L419.0 304.2 L417.9 304.2 L417.9 302.5 L415.5 302.5 L415.5 300.8 L413.4 300.8 L413.4 299.1 L413.7 299.1 L413.7 297.4 L412.1 297.4 L412.1 295.7 L410.4 295.7 L410.4 293.7 L409.8 293.7 L409.8 291.7 L407.3 291.7 L407.3 289.7 L406.2 289.7 L406.2 287.8 L404.8 287.8 L404.8 285.8 L404.1 285.8 L404.1 283.8 L402.3 283.8 L402.3 281.9 L400.9 281.9 L400.9 280.0 L399.8 280.0 L399.8 278.1 L398.0 278.1 L398.0 276.2 L398.7 276.2 L398.7 274.0 L397.7 274.0 L397.7 271.9 L396.7 271.9 L396.7 269.7 L396.0 269.7 L396.0 267.5 L395.3 267.5 L395.3 265.8 L392.6 265.8 L392.6 264.0 L391.1 264.0 L391.1 262.2Z"/></clipPath>
<g clip-path="url(#cl5)">
<rect x="360.5" y="243.0" width="160.0" height="166.0" fill="#fdd6a2"/>
<path d="M388.6 262.4 C390.6 260.2 398.7 256.6 402.2 255.0 C405.8 253.5 407.4 253.2 410.0 253.1 C412.6 253.0 415.5 253.6 417.7 254.6 C420.0 255.7 421.6 258.2 423.6 259.5 C425.5 260.8 427.1 261.9 429.4 262.4 C431.6 262.9 434.3 262.9 437.1 262.4 C440.0 261.8 445.5 258.8 446.4 259.1 C447.4 259.4 444.2 262.7 442.9 264.3 C441.7 266.0 440.0 267.6 439.1 269.2 C438.1 270.8 437.8 272.3 437.1 274.0 C436.5 275.8 435.8 277.6 435.2 279.9 C434.5 282.1 434.2 285.3 433.2 287.6 C432.3 289.9 430.8 291.7 429.4 293.4 C427.9 295.2 426.0 297.6 424.5 298.3 C423.1 298.9 422.1 298.0 420.6 297.3 C419.2 296.7 417.2 294.5 415.8 294.4 C414.3 294.3 413.5 297.4 411.9 296.9 C410.3 296.4 408.0 293.5 406.1 291.5 C404.2 289.5 402.1 286.8 400.3 284.7 C398.5 282.6 396.6 281.0 395.4 278.9 C394.3 276.8 394.3 273.9 393.5 272.1 C392.7 270.3 391.4 269.8 390.6 268.2 C389.8 266.6 386.7 264.6 388.6 262.4Z" fill="#fca53c" />
<path d="M451.4 264.3 C453.0 262.4 457.9 259.7 461.1 258.5 C464.3 257.3 467.6 257.0 470.8 257.0 C474.0 257.0 477.3 257.6 480.5 258.5 C483.7 259.4 487.3 260.8 490.2 262.4 C493.1 264.0 495.4 265.9 497.9 268.2 C500.5 270.5 503.3 273.2 505.7 276.4 C508.1 279.5 510.4 283.1 512.5 287.2 C514.6 291.4 516.7 296.3 518.3 301.2 C519.9 306.1 521.4 312.0 522.2 316.7 C523.0 321.4 527.5 327.2 523.2 329.3 C518.8 331.4 500.9 330.8 496.0 329.3 C491.2 327.9 494.9 324.0 494.1 320.6 C493.3 317.2 492.0 312.2 491.2 308.9 C490.4 305.7 490.2 303.8 489.2 301.2 C488.2 298.6 486.6 295.9 485.3 293.4 C484.0 291.0 482.9 288.4 481.5 286.6 C480.0 284.9 478.4 283.6 476.6 282.8 C474.8 282.0 472.7 281.3 470.8 281.8 C468.9 282.3 466.9 284.9 465.0 285.7 C463.0 286.5 460.8 287.3 459.2 286.6 C457.5 286.0 456.4 283.6 455.3 281.8 C454.1 280.0 453.0 277.9 452.4 276.0 C451.7 274.0 451.6 272.1 451.4 270.2 C451.2 268.2 449.8 266.3 451.4 264.3Z" fill="#fca53c" />
<path d="M447.5 320.6 C448.5 319.7 452.7 318.5 455.3 317.7 C457.9 316.9 460.4 316.5 463.0 315.7 C465.6 314.9 468.2 313.5 470.8 312.8 C473.4 312.2 476.0 311.9 478.6 311.9 C481.1 311.9 484.0 312.2 486.3 312.8 C488.6 313.5 490.8 314.4 492.1 315.7 C493.4 317.0 494.4 319.1 494.1 320.6 C493.7 322.0 492.1 324.1 490.2 324.5 C488.2 324.8 485.0 322.7 482.4 322.5 C479.8 322.4 476.6 323.8 474.7 323.5 C472.7 323.2 472.7 320.9 470.8 320.6 C468.9 320.3 465.6 321.1 463.0 321.6 C460.4 322.0 457.5 323.3 455.3 323.5 C453.0 323.7 450.8 323.4 449.5 322.9 C448.2 322.4 446.5 321.5 447.5 320.6Z" fill="#fca53c" />
<path d="M439.3 328.8 C440.8 327.0 445.8 328.1 448.0 328.8 C450.2 329.6 451.1 331.4 452.3 333.2 C453.6 335.0 454.5 337.5 455.6 339.7 C456.7 341.8 457.9 344.0 458.8 346.2 C459.8 348.4 461.2 350.5 461.0 352.7 C460.8 354.9 458.8 357.0 457.8 359.2 C456.7 361.4 455.6 363.5 454.5 365.7 C453.4 367.9 452.3 369.7 451.3 372.2 C450.2 374.7 449.1 378.0 448.0 380.9 C446.9 383.8 446.0 385.9 444.8 389.5 C443.5 393.2 442.0 399.3 440.4 402.6 C438.8 405.8 435.7 410.1 435.0 409.1 C434.3 408.0 434.8 400.4 436.1 396.0 C437.3 391.7 441.0 387.0 442.6 383.0 C444.2 379.1 445.5 375.8 445.8 372.2 C446.2 368.6 445.5 365.0 444.8 361.4 C444.0 357.7 442.4 354.1 441.5 350.5 C440.6 346.9 439.7 343.3 439.3 339.7 C439.0 336.1 437.9 330.6 439.3 328.8Z" fill="#fca53c" />
<path d="M448.0 320.2 C450.0 319.1 456.0 318.4 461.0 318.0 C466.1 317.6 473.7 317.5 478.4 318.0 C483.1 318.5 486.9 319.8 489.2 321.3 C491.5 322.7 492.3 324.7 492.5 326.7 C492.6 328.7 491.4 331.2 490.3 333.2 C489.2 335.2 487.4 337.2 485.9 338.6 C484.5 340.0 483.1 341.8 481.6 341.8 C480.2 341.8 478.5 340.0 477.3 338.6 C476.0 337.2 475.7 334.6 474.0 333.2 C472.4 331.7 469.7 330.8 467.5 329.9 C465.4 329.0 463.2 328.3 461.0 327.8 C458.8 327.2 456.5 327.2 454.5 326.7 C452.5 326.1 450.2 325.6 449.1 324.5 C448.0 323.4 446.0 321.3 448.0 320.2Z" fill="#fca53c" />
<path d="M461.0 339.7 C461.9 338.4 465.5 337.5 467.5 337.5 C469.5 337.5 471.9 338.6 472.9 339.7 C474.0 340.8 474.4 342.6 474.0 344.0 C473.7 345.5 471.9 347.8 470.8 348.4 C469.7 348.9 468.8 346.9 467.5 347.3 C466.3 347.6 464.1 350.9 463.2 350.5 C462.3 350.2 462.5 346.9 462.1 345.1 C461.7 343.3 460.1 340.9 461.0 339.7Z" fill="#fca53c" />
<path d="M478.4 344.0 C478.9 342.4 482.3 340.9 483.8 340.8 C485.2 340.6 486.9 341.7 487.0 342.9 C487.2 344.2 485.9 347.1 484.9 348.4 C483.8 349.6 481.6 351.2 480.5 350.5 C479.4 349.8 477.8 345.6 478.4 344.0Z" fill="#fca53c" />
<path d="M493.5 331.0 C494.6 327.4 497.9 324.9 500.0 322.3 C502.2 319.8 501.5 316.9 506.5 315.8 C511.6 314.7 526.4 308.2 530.4 315.8 C534.4 323.4 531.8 350.9 530.4 361.4 C528.9 371.8 525.3 373.6 521.7 378.7 C518.1 383.8 512.7 388.1 508.7 391.7 C504.7 395.3 501.8 397.5 497.9 400.4 C493.9 403.3 489.6 406.9 484.9 409.1 C480.2 411.2 474.4 413.8 469.7 413.4 C465.0 413.0 457.0 409.1 456.7 406.9 C456.3 404.7 464.8 402.9 467.5 400.4 C470.2 397.9 471.5 394.6 472.9 391.7 C474.4 388.8 475.8 385.6 476.2 383.0 C476.6 380.5 474.7 378.7 475.1 376.5 C475.5 374.4 477.3 372.0 478.4 370.0 C479.4 368.0 480.3 366.1 481.6 364.6 C482.9 363.2 484.7 361.4 485.9 361.4 C487.2 361.4 488.1 364.6 489.2 364.6 C490.3 364.6 491.5 363.2 492.5 361.4 C493.4 359.6 494.4 356.7 494.6 353.8 C494.8 350.9 493.7 347.8 493.5 344.0 C493.4 340.2 492.5 334.6 493.5 331.0Z" fill="#fca53c" />
<path d="M497.9 333.2 C498.8 330.3 502.2 325.6 504.4 324.5 C506.5 323.4 509.4 324.9 510.9 326.7 C512.3 328.5 512.9 332.1 513.0 335.3 C513.2 338.6 512.7 342.6 512.0 346.2 C511.2 349.8 510.0 353.4 508.7 357.0 C507.4 360.6 506.2 364.6 504.4 367.9 C502.6 371.1 499.9 374.0 497.9 376.5 C495.9 379.1 493.9 380.9 492.5 383.0 C491.0 385.2 490.3 388.8 489.2 389.5 C488.1 390.3 485.9 389.2 485.9 387.4 C485.9 385.6 487.9 381.6 489.2 378.7 C490.5 375.8 492.3 372.9 493.5 370.0 C494.8 367.1 495.9 364.6 496.8 361.4 C497.7 358.1 498.6 353.8 499.0 350.5 C499.3 347.3 499.1 344.7 499.0 341.8 C498.8 339.0 497.0 336.1 497.9 333.2Z" fill="#fdd6a2" />
<path d="M389.6 262.4 C390.7 260.3 398.2 259.6 401.2 259.3 C404.3 259.0 406.1 259.6 408.0 260.5 C410.0 261.3 411.4 262.7 412.9 264.3 C414.3 266.0 415.8 267.9 416.8 270.2 C417.7 272.4 418.4 275.5 418.7 277.9 C419.0 280.3 419.3 283.1 418.7 284.7 C418.1 286.3 416.4 287.3 414.8 287.6 C413.2 287.9 410.8 287.2 409.0 286.6 C407.2 286.1 406.1 285.3 404.2 284.1 C402.2 282.9 399.0 281.5 397.4 279.5 C395.8 277.5 395.8 274.9 394.5 272.1 C393.2 269.2 388.5 264.5 389.6 262.4Z" fill="#fa7d0f" />
<path d="M470.8 270.2 C471.4 269.5 474.3 268.5 476.6 269.2 C478.9 269.8 482.1 272.3 484.4 274.0 C486.6 275.8 489.9 279.0 490.2 279.9 C490.5 280.7 488.2 279.7 486.3 278.9 C484.4 278.1 480.8 276.0 478.6 275.0 C476.3 274.0 474.0 273.9 472.7 273.1 C471.4 272.3 470.1 270.8 470.8 270.2Z" fill="#fa7d0f" />
<path d="M503.8 289.6 C504.1 288.7 507.0 290.8 508.6 293.4 C510.2 296.0 512.5 302.2 513.5 305.1 C514.4 308.0 514.9 310.6 514.4 310.9 C514.0 311.2 511.8 309.1 510.6 307.0 C509.3 304.9 507.8 301.2 506.7 298.3 C505.5 295.4 503.4 290.4 503.8 289.6Z" fill="#fa7d0f" />
<path d="M469.8 320.6 C469.8 320.2 472.4 320.9 473.7 321.6 C475.0 322.2 477.6 324.0 477.6 324.5 C477.6 324.9 475.0 324.7 473.7 324.1 C472.4 323.4 469.8 321.0 469.8 320.6Z" fill="#fa7d0f" />
<path d="M443.7 335.3 C444.0 335.3 445.1 337.5 445.8 339.7 C446.6 341.8 447.9 347.3 448.0 348.4 C448.1 349.4 446.9 347.6 446.3 346.2 C445.6 344.7 444.5 341.5 444.1 339.7 C443.7 337.9 443.4 335.3 443.7 335.3Z" fill="#fa7d0f" />
<path d="M401.2 272.1 C401.7 270.5 403.8 267.9 405.1 267.2 C406.4 266.6 407.9 267.2 409.0 268.2 C410.1 269.2 411.8 271.4 411.9 273.1 C412.1 274.7 410.9 276.8 410.0 277.9 C409.0 279.0 407.4 280.0 406.1 279.9 C404.8 279.7 403.0 278.2 402.2 276.9 C401.4 275.7 400.8 273.7 401.2 272.1Z" fill="#e2500a" />
</g>
<clipPath id="cl6"><path d="M590.9 265.3 A78.0 81.0 0 1 1 651.5 405.9 L651.5 405.9 L651.3 405.9 L651.3 403.3 L653.6 403.3 L653.6 400.7 L653.0 400.7 L653.0 398.0 L653.1 398.0 L653.1 395.3 L652.9 395.3 L652.9 392.6 L653.7 392.6 L653.7 389.9 L653.8 389.9 L653.8 387.2 L652.9 387.2 L652.9 385.5 L651.5 385.5 L651.5 383.7 L650.3 383.7 L650.3 382.0 L647.6 382.0 L647.6 380.3 L647.7 380.3 L647.7 378.5 L646.7 378.5 L646.7 376.0 L646.1 376.0 L646.1 373.5 L645.7 373.5 L645.7 370.9 L646.6 370.9 L646.6 368.4 L645.5 368.4 L645.5 365.9 L645.2 365.9 L645.2 363.4 L646.0 363.4 L646.0 360.8 L644.0 360.8 L644.0 358.3 L645.9 358.3 L645.9 355.8 L644.6 355.8 L644.6 353.2 L643.7 353.2 L643.7 350.7 L644.4 350.7 L644.4 348.2 L644.7 348.2 L644.7 345.6 L642.7 345.6 L642.7 343.0 L643.0 343.0 L643.0 340.4 L642.2 340.4 L642.2 337.8 L642.8 337.8 L642.8 335.2 L642.3 335.2 L642.3 332.7 L642.9 332.7 L642.9 330.2 L642.3 330.2 L642.3 327.8 L643.3 327.8 L643.3 325.3 L640.6 325.3 L640.6 323.9 L638.4 323.9 L638.4 322.1 L636.0 322.1 L636.0 320.3 L633.4 320.3 L633.4 318.5 L631.9 318.5 L631.9 316.8 L630.0 316.8 L630.0 315.2 L628.5 315.2 L628.5 313.6 L627.4 313.6 L627.4 312.0 L624.6 312.0 L624.6 310.3 L623.1 310.3 L623.1 308.7 L622.9 308.7 L622.9 306.9 L620.2 306.9 L620.2 305.1 L617.9 305.1 L617.9 303.3 L616.4 303.3 L616.4 301.5 L615.6 301.5 L615.6 299.7 L611.8 299.7 L611.8 297.9 L612.0 297.9 L612.0 296.1 L608.4 296.1 L608.4 294.4 L608.4 294.4 L608.4 292.7 L606.2 292.7 L606.2 290.9 L605.3 290.9 L605.3 289.2 L601.5 289.2 L601.5 287.6 L600.7 287.6 L600.7 285.9 L599.8 285.9 L599.8 284.3 L596.6 284.3 L596.6 282.7 L596.1 282.7 L596.1 280.0 L597.1 280.0 L597.1 277.3 L595.1 277.3 L595.1 275.1 L594.4 275.1 L594.4 272.9 L591.4 272.9 L591.4 270.4 L590.7 270.4 L590.7 267.9 L591.0 267.9 L591.0 265.3Z"/></clipPath>
<g clip-path="url(#cl6)">
<rect x="563.3" y="242.3" width="160.0" height="166.0" fill="#fdd6a2"/>
<path d="M588.8 264.3 C590.0 262.1 597.9 257.1 601.4 254.6 C605.0 252.2 606.8 251.2 610.2 249.8 C613.5 248.3 617.9 246.7 621.8 245.9 C625.7 245.1 630.3 244.8 633.4 244.9 C636.6 245.1 640.0 245.7 640.6 246.9 C641.3 248.0 638.3 250.1 637.3 251.7 C636.3 253.3 635.7 255.1 634.4 256.6 C633.1 258.0 631.2 259.3 629.6 260.5 C627.9 261.6 626.5 262.4 624.7 263.4 C622.9 264.3 620.7 265.3 618.9 266.3 C617.1 267.2 615.7 268.9 614.0 269.2 C612.4 269.5 610.8 268.7 609.2 268.2 C607.6 267.7 606.0 266.3 604.3 266.3 C602.7 266.3 601.1 268.0 599.5 268.2 C597.9 268.5 596.4 268.5 594.6 267.8 C592.9 267.2 587.7 266.5 588.8 264.3Z" fill="#fca53c" />
<path d="M597.5 276.9 C597.4 275.9 600.5 275.5 601.4 276.0 C602.4 276.5 603.2 278.8 603.4 279.9 C603.5 280.9 603.4 282.7 602.4 282.2 C601.4 281.7 597.7 278.0 597.5 276.9Z" fill="#fca53c" />
<path d="M614.0 291.5 C614.7 290.6 617.8 290.0 618.9 290.5 C620.0 291.0 621.0 293.3 620.8 294.4 C620.7 295.5 618.9 297.1 617.9 297.3 C616.9 297.5 615.7 296.7 615.0 295.8 C614.4 294.8 613.4 292.4 614.0 291.5Z" fill="#fca53c" />
<path d="M621.8 295.0 C622.1 293.5 625.2 291.8 626.6 292.5 C628.1 293.2 629.2 298.3 630.5 299.2 C631.8 300.2 633.6 297.6 634.4 298.3 C635.2 298.9 635.7 301.7 635.4 303.1 C635.0 304.6 633.6 306.5 632.5 307.0 C631.3 307.5 629.9 307.0 628.6 306.0 C627.3 305.1 625.8 303.0 624.7 301.2 C623.6 299.3 621.5 296.4 621.8 295.0Z" fill="#fca53c" />
<path d="M634.4 309.9 C634.9 307.7 638.3 305.6 640.2 304.1 C642.2 302.6 644.1 301.4 646.0 301.2 C648.0 301.0 650.1 302.0 651.9 303.1 C653.6 304.3 654.9 306.4 656.7 308.0 C658.5 309.6 660.6 311.4 662.5 312.8 C664.5 314.3 666.9 316.5 668.3 316.7 C669.8 316.9 669.6 313.8 671.0 313.8 C672.4 313.8 675.3 315.3 676.8 316.7 C678.2 318.2 679.5 320.3 679.7 322.5 C679.9 324.8 684.7 329.0 677.8 330.3 C670.8 331.6 644.1 331.3 638.0 330.3 C631.9 329.3 641.3 326.6 641.2 324.5 C641.1 322.4 638.4 320.1 637.3 317.7 C636.2 315.3 633.9 312.2 634.4 309.9Z" fill="#fca53c" />
<path d="M674.9 305.1 C675.0 303.8 677.8 302.3 679.7 302.2 C681.6 302.0 684.1 304.3 686.5 304.1 C688.9 303.9 691.7 301.8 694.2 301.2 C696.8 300.5 699.4 300.1 702.0 300.2 C704.6 300.4 707.5 301.4 709.8 302.2 C712.0 303.0 713.8 303.6 715.6 305.1 C717.4 306.5 719.1 308.3 720.4 310.9 C721.7 313.5 722.7 317.4 723.3 320.6 C724.0 323.8 727.9 328.7 724.3 330.3 C720.8 331.9 706.7 331.3 702.0 330.3 C697.3 329.3 698.1 326.4 696.2 324.5 C694.2 322.5 692.3 320.6 690.4 318.6 C688.4 316.7 686.5 314.3 684.6 312.8 C682.6 311.4 680.3 311.2 678.7 309.9 C677.1 308.6 674.7 306.4 674.9 305.1Z" fill="#fca53c" />
<path d="M641.3 320.2 C644.7 317.1 653.1 315.7 659.7 314.7 C666.2 313.8 677.3 313.3 680.5 314.7 C683.6 316.2 679.0 320.6 678.5 323.2 C678.1 325.8 677.6 327.9 677.9 330.1 C678.2 332.4 679.8 334.4 680.5 336.9 C681.1 339.4 681.4 342.4 681.8 345.1 C682.2 347.8 682.8 350.8 682.7 353.3 C682.6 355.9 681.5 357.5 681.1 360.3 C680.8 363.0 680.8 367.4 680.5 369.8 C680.2 372.3 680.9 373.2 679.2 375.0 C677.5 376.9 673.0 379.0 670.5 380.9 C668.0 382.8 665.6 384.7 664.0 386.3 C662.4 387.9 661.7 389.2 660.8 390.6 C659.9 392.1 659.3 393.3 658.6 395.0 C657.9 396.7 657.3 398.8 656.4 400.8 C655.5 402.9 654.8 406.0 653.2 407.3 C651.6 408.6 647.2 410.9 646.7 408.6 C646.1 406.4 649.2 397.8 649.9 393.9 C650.6 390.0 652.1 387.4 651.0 385.2 C649.9 383.0 644.9 383.8 643.4 380.9 C642.0 378.0 642.9 371.8 642.3 367.9 C641.8 363.9 640.6 361.0 640.2 357.0 C639.7 353.0 639.9 348.0 639.7 344.0 C639.6 340.0 638.8 337.2 639.1 333.2 C639.3 329.2 637.8 323.2 641.3 320.2Z" fill="#fca53c" />
<path d="M694.2 314.7 C687.8 315.9 693.4 319.6 692.9 321.9 C692.3 324.2 691.3 326.3 690.7 328.6 C690.1 330.9 689.7 333.3 689.4 335.6 C689.1 337.8 688.9 340.0 688.7 342.3 C688.5 344.6 688.4 347.2 688.1 349.2 C687.8 351.2 686.7 353.9 687.0 354.4 C687.3 354.9 688.8 352.8 690.0 352.3 C691.2 351.7 692.8 351.3 694.2 351.4 C695.5 351.5 697.1 351.9 698.3 352.7 C699.4 353.5 700.2 354.9 701.1 356.2 C702.0 357.4 702.8 359.1 703.7 360.3 C704.6 361.4 705.4 362.8 706.5 363.1 C707.7 363.3 709.4 361.5 710.6 361.8 C711.9 362.0 710.4 364.1 713.9 364.6 C717.3 365.1 728.3 372.9 731.2 364.6 C734.1 356.3 737.4 323.1 731.2 314.7 C725.0 306.4 700.5 313.6 694.2 314.7Z" fill="#fca53c" />
<path d="M670.5 376.5 C673.6 374.0 678.5 373.3 681.4 372.2 C684.3 371.1 687.3 369.5 687.9 370.0 C688.4 370.6 686.4 373.6 684.6 375.5 C682.8 377.3 679.4 379.2 677.0 380.9 C674.7 382.5 672.3 383.8 670.5 385.2 C668.7 386.7 667.4 389.2 666.2 389.5 C664.9 389.9 662.2 389.5 662.9 387.4 C663.7 385.2 667.4 379.1 670.5 376.5Z" fill="#fca53c" />
<path d="M661.8 333.2 C662.6 331.9 666.4 331.6 668.4 332.1 C670.3 332.6 672.5 334.4 673.8 336.4 C675.0 338.4 675.8 341.7 675.9 344.0 C676.1 346.4 675.8 349.1 674.9 350.5 C674.0 352.0 671.8 353.4 670.5 352.7 C669.3 352.0 668.4 348.4 667.3 346.2 C666.2 344.0 664.9 341.8 664.0 339.7 C663.1 337.5 661.1 334.4 661.8 333.2Z" fill="#fdd6a2" />
<path d="M648.8 331.0 C649.2 330.3 651.9 333.2 653.2 335.3 C654.4 337.5 656.1 342.2 656.4 344.0 C656.8 345.8 656.2 346.9 655.3 346.2 C654.4 345.5 652.1 342.2 651.0 339.7 C649.9 337.2 648.5 331.7 648.8 331.0Z" fill="#fdd6a2" />
<path d="M706.9 333.6 C707.8 331.5 711.2 330.8 712.8 331.4 C714.4 332.1 715.7 335.1 716.5 337.5 C717.3 340.0 717.8 343.3 717.8 346.2 C717.8 349.1 717.3 353.1 716.5 354.9 C715.7 356.6 714.0 357.0 712.8 356.6 C711.6 356.2 710.4 354.8 709.5 352.7 C708.7 350.6 708.2 347.2 707.8 344.0 C707.4 340.8 706.1 335.7 706.9 333.6Z" fill="#fdd6a2" />
<path d="M600.5 257.0 C601.1 255.7 606.7 252.1 608.2 251.7 C609.7 251.4 610.0 253.7 609.4 255.0 C608.7 256.3 605.8 259.2 604.3 259.5 C602.8 259.8 599.8 258.3 600.5 257.0Z" fill="#fa7d0f" />
<path d="M641.2 321.0 C642.1 319.7 646.0 318.4 648.9 317.7 C651.9 317.0 655.7 316.5 658.6 316.7 C661.6 316.9 665.6 318.6 666.4 318.6 C667.2 318.6 662.5 316.5 663.2 316.7 C664.0 316.9 669.0 318.5 671.0 319.6 C672.9 320.7 674.9 322.3 674.9 323.5 C674.9 324.7 673.9 325.8 671.0 326.8 C668.1 327.8 661.4 328.9 657.4 329.3 C653.4 329.7 649.3 330.0 647.0 329.3 C644.7 328.7 644.5 326.8 643.5 325.4 C642.5 324.0 640.3 322.3 641.2 321.0Z" fill="#fa7d0f" />
<path d="M693.3 316.7 C693.9 315.1 696.7 312.8 698.1 312.8 C699.6 312.8 700.9 315.1 702.0 316.7 C703.1 318.3 704.3 320.4 704.9 322.5 C705.6 324.6 707.3 328.2 705.9 329.3 C704.4 330.4 698.1 330.4 696.2 329.3 C694.2 328.2 694.7 324.6 694.2 322.5 C693.8 320.4 692.6 318.3 693.3 316.7Z" fill="#fa7d0f" />
<path d="M646.7 328.8 C647.2 328.3 651.2 329.6 653.2 331.0 C655.2 332.5 657.0 335.0 658.6 337.5 C660.2 340.0 661.5 343.3 662.9 346.2 C664.4 349.1 666.0 352.0 667.3 354.9 C668.5 357.7 669.6 361.0 670.5 363.5 C671.4 366.1 673.0 369.3 672.7 370.0 C672.3 370.8 669.8 369.5 668.4 367.9 C666.9 366.2 665.5 363.2 664.0 360.3 C662.6 357.4 661.1 353.6 659.7 350.5 C658.2 347.4 657.0 344.6 655.3 341.8 C653.7 339.1 651.4 336.4 649.9 334.3 C648.5 332.1 646.1 329.4 646.7 328.8Z" fill="#fa7d0f" />
<path d="M641.3 331.0 C642.0 330.3 645.6 336.1 646.7 339.7 C647.8 343.3 647.8 348.4 647.8 352.7 C647.8 357.0 647.4 365.0 646.7 365.7 C645.9 366.4 644.2 360.6 643.4 357.0 C642.6 353.4 642.3 348.4 641.9 344.0 C641.5 339.7 640.5 331.7 641.3 331.0Z" fill="#fa7d0f" />
<path d="M699.6 319.1 C700.1 318.5 702.0 318.9 703.0 320.2 C704.1 321.4 705.1 324.4 705.6 326.7 C706.2 328.9 706.8 332.5 706.5 333.6 C706.3 334.7 704.9 334.2 704.1 333.2 C703.4 332.2 702.6 329.4 702.0 327.8 C701.3 326.1 700.4 324.9 700.0 323.4 C699.6 322.0 699.1 319.6 699.6 319.1Z" fill="#fa7d0f" />
<path d="M693.3 316.9 C693.8 315.8 696.7 315.7 697.6 316.9 C698.5 318.2 699.0 322.9 698.7 324.5 C698.5 326.1 696.8 326.9 696.1 326.7 C695.4 326.5 694.8 325.0 694.4 323.4 C693.9 321.8 692.7 318.0 693.3 316.9Z" fill="#fa7d0f" />
<path d="M656.4 322.5 C657.0 322.4 659.6 322.7 660.3 322.9 C661.0 323.2 661.4 323.9 660.9 324.1 C660.3 324.2 657.8 323.9 657.0 323.7 C656.3 323.4 655.9 322.7 656.4 322.5Z" fill="#e2500a" />
<path d="M658.6 341.8 C659.0 341.1 660.8 342.2 661.8 344.0 C662.9 345.8 664.4 350.2 665.1 352.7 C665.8 355.2 666.5 358.7 666.2 359.2 C665.8 359.7 664.0 357.7 662.9 355.9 C661.8 354.1 660.4 350.7 659.7 348.4 C659.0 346.0 658.2 342.6 658.6 341.8Z" fill="#e2500a" />
</g>
<ellipse cx="264.0" cy="113.0" rx="54.2" ry="56.2" fill="none" stroke="#1a1a1a" stroke-width="1.1"/>
<circle cx="264.0" cy="113.0" r="2.9" fill="#fff"/>
<path d="M262.2 113.0h3.6M264.0 111.2v3.6" stroke="#000" stroke-width="1.05"/>
<path d="M318.2 110.7l2.4 2.6l-2.4 2.6l-2.4 -2.6z" fill="#0c2414" stroke="#0c2414" stroke-width="0.7" stroke-linejoin="round"/>
<circle cx="315.0" cy="107.1" r="1.25" fill="#111"/>
<circle cx="321.1" cy="117.5" r="1.25" fill="#111"/>
<ellipse cx="264.0" cy="326.0" rx="54.2" ry="56.2" fill="none" stroke="#1a1a1a" stroke-width="1.1"/>
<circle cx="264.0" cy="326.0" r="2.9" fill="#fff"/>
<path d="M262.2 326.0h3.6M264.0 324.2v3.6" stroke="#000" stroke-width="1.05"/>
<path d="M318.2 323.7l2.4 2.6l-2.4 2.6l-2.4 -2.6z" fill="#0c2414" stroke="#0c2414" stroke-width="0.7" stroke-linejoin="round"/>
<circle cx="315.0" cy="320.1" r="1.25" fill="#111"/>
<circle cx="321.1" cy="330.5" r="1.25" fill="#111"/>
<ellipse cx="439.0" cy="113.0" rx="54.2" ry="56.2" fill="none" stroke="#1a1a1a" stroke-width="1.1"/>
<circle cx="439.0" cy="113.0" r="2.9" fill="#fff"/>
<path d="M437.2 113.0h3.6M439.0 111.2v3.6" stroke="#000" stroke-width="1.05"/>
<path d="M493.2 110.7l2.4 2.6l-2.4 2.6l-2.4 -2.6z" fill="#0c2414" stroke="#0c2414" stroke-width="0.7" stroke-linejoin="round"/>
<circle cx="490.0" cy="107.1" r="1.25" fill="#111"/>
<circle cx="496.1" cy="117.5" r="1.25" fill="#111"/>
<ellipse cx="645.7" cy="115.7" rx="54.2" ry="56.2" fill="none" stroke="#1a1a1a" stroke-width="1.1"/>
<circle cx="645.7" cy="115.7" r="2.9" fill="#fff"/>
<path d="M643.9 115.7h3.6M645.7 113.9v3.6" stroke="#000" stroke-width="1.05"/>
<path d="M699.9 113.4l2.4 2.6l-2.4 2.6l-2.4 -2.6z" fill="#0c2414" stroke="#0c2414" stroke-width="0.7" stroke-linejoin="round"/>
<circle cx="696.7" cy="109.8" r="1.25" fill="#111"/>
<circle cx="702.8" cy="120.2" r="1.25" fill="#111"/>
<ellipse cx="440.5" cy="326.0" rx="54.2" ry="56.2" fill="none" stroke="#1a1a1a" stroke-width="1.1"/>
<circle cx="440.5" cy="326.0" r="2.9" fill="#fff"/>
<path d="M438.7 326.0h3.6M440.5 324.2v3.6" stroke="#000" stroke-width="1.05"/>
<path d="M494.7 323.7l2.4 2.6l-2.4 2.6l-2.4 -2.6z" fill="#0c2414" stroke="#0c2414" stroke-width="0.7" stroke-linejoin="round"/>
<circle cx="491.5" cy="320.1" r="1.25" fill="#111"/>
<circle cx="497.6" cy="330.5" r="1.25" fill="#111"/>
<ellipse cx="643.3" cy="325.3" rx="54.2" ry="56.2" fill="none" stroke="#1a1a1a" stroke-width="1.1"/>
<circle cx="643.3" cy="325.3" r="2.9" fill="#fff"/>
<path d="M641.5 325.3h3.6M643.3 323.5v3.6" stroke="#000" stroke-width="1.05"/>
<path d="M697.5 323.0l2.4 2.6l-2.4 2.6l-2.4 -2.6z" fill="#0c2414" stroke="#0c2414" stroke-width="0.7" stroke-linejoin="round"/>
<circle cx="694.3" cy="319.4" r="1.25" fill="#111"/>
<circle cx="700.4" cy="329.8" r="1.25" fill="#111"/>
<clipPath id="fa"><rect x="54.6" y="12.3" width="69.3" height="374.7"/></clipPath>
<g clip-path="url(#fa)" fill="none">
<polyline points="52.5,161.0 53.7,162.2 54.9,163.3 56.1,164.4 57.3,165.4 58.5,166.4 59.7,167.3 60.9,168.2 62.2,169.0 63.4,169.8 64.6,170.6 65.8,171.3 67.0,172.0 68.2,172.7 69.4,173.3 70.6,173.8 71.8,174.4 73.1,174.8 74.3,175.3 75.5,175.7 76.7,176.1 77.9,176.4 79.1,176.7 80.3,177.0 81.5,177.2 82.7,177.4 84.0,177.6 85.2,177.7 86.4,177.8 87.6,177.9 88.8,177.9 90.0,177.9 91.2,177.8 92.4,177.7 93.6,177.6 94.9,177.4 96.1,177.2 97.3,177.0 98.5,176.7 99.7,176.4 100.9,176.1 102.1,175.7 103.3,175.3 104.5,174.8 105.8,174.4 107.0,173.8 108.2,173.3 109.4,172.7 110.6,172.0 111.8,171.3 113.0,170.6 114.2,169.8 115.4,169.0 116.7,168.2 117.9,167.3 119.1,166.4 120.3,165.4 121.5,164.4 122.7,163.3 123.9,162.2 125.1,161.0" stroke="#3a3a3a" stroke-width="1.05" stroke-dasharray="4 3"/>
<polyline points="52.5,254.7 53.7,255.4 54.9,256.1 56.1,256.8 57.3,257.4 58.5,258.0 59.7,258.5 60.9,259.1 62.2,259.6 63.4,260.1 64.6,260.6 65.8,261.1 67.0,261.5 68.2,261.9 69.4,262.3 70.6,262.6 71.8,263.0 73.1,263.3 74.3,263.6 75.5,263.8 76.7,264.1 77.9,264.3 79.1,264.5 80.3,264.6 81.5,264.8 82.7,264.9 84.0,265.0 85.2,265.1 86.4,265.1 87.6,265.2 88.8,265.2 90.0,265.2 91.2,265.1 92.4,265.1 93.6,265.0 94.9,264.9 96.1,264.8 97.3,264.6 98.5,264.5 99.7,264.3 100.9,264.1 102.1,263.8 103.3,263.6 104.5,263.3 105.8,263.0 107.0,262.6 108.2,262.3 109.4,261.9 110.6,261.5 111.8,261.1 113.0,260.6 114.2,260.1 115.4,259.6 116.7,259.1 117.9,258.5 119.1,258.0 120.3,257.4 121.5,256.8 122.7,256.1 123.9,255.4 125.1,254.7" stroke="#3a3a3a" stroke-width="1.05" stroke-dasharray="4 3"/>
<polyline points="52.5,354.5 53.7,355.0 54.9,355.5 56.1,355.9 57.3,356.4 58.5,356.8 59.7,357.2 60.9,357.6 62.2,358.0 63.4,358.3 64.6,358.7 65.8,359.0 67.0,359.3 68.2,359.6 69.4,359.8 70.6,360.1 71.8,360.3 73.1,360.6 74.3,360.8 75.5,361.0 76.7,361.1 77.9,361.3 79.1,361.4 80.3,361.5 81.5,361.6 82.7,361.7 84.0,361.8 85.2,361.9 86.4,361.9 87.6,361.9 88.8,361.9 90.0,361.9 91.2,361.9 92.4,361.9 93.6,361.8 94.9,361.7 96.1,361.6 97.3,361.5 98.5,361.4 99.7,361.3 100.9,361.1 102.1,361.0 103.3,360.8 104.5,360.6 105.8,360.3 107.0,360.1 108.2,359.8 109.4,359.6 110.6,359.3 111.8,359.0 113.0,358.7 114.2,358.3 115.4,358.0 116.7,357.6 117.9,357.2 119.1,356.8 120.3,356.4 121.5,355.9 122.7,355.5 123.9,355.0 125.1,354.5" stroke="#3a3a3a" stroke-width="1.05" stroke-dasharray="4 3"/>
<path d="M78.0 17.0 C76.7 16.7 72.7 15.8 70.0 15.0 C67.3 14.2 64.7 13.3 62.0 12.5 C59.3 11.7 55.3 10.4 54.0 10.0" fill="none" stroke="#666" stroke-width="0.70"/>
<path d="M79.4 30.8 C77.8 31.8 72.9 35.2 70.0 37.0 C67.1 38.8 64.6 40.2 62.0 41.5 C59.4 42.8 55.8 44.3 54.6 44.9" fill="none" stroke="#666" stroke-width="0.70"/>
<path d="M83.0 35.0 C81.5 37.8 77.2 45.8 74.0 52.0 C70.8 58.2 67.0 65.8 64.0 72.0 C61.0 78.2 58.1 84.2 55.8 89.0 C53.5 93.8 51.0 99.0 50.0 101.0" fill="none" stroke="#666" stroke-width="0.70"/>
<path d="M85.5 36.0 C84.8 42.5 82.8 61.0 81.0 75.0 C79.2 89.0 77.5 108.3 75.0 120.0 C72.5 131.7 69.2 137.4 66.0 145.0 C62.8 152.6 58.4 160.2 55.7 165.7 C53.0 171.2 51.0 175.9 50.0 178.0" fill="none" stroke="#666" stroke-width="0.70"/>
<path d="M93.0 35.0 C93.9 39.2 97.1 49.2 98.5 60.0 C99.9 70.8 100.9 89.7 101.5 100.0 C102.1 110.3 102.2 113.7 102.0 122.0 C101.8 130.3 100.9 140.8 100.0 150.0 C99.1 159.2 98.3 166.3 96.8 177.0 C95.3 187.7 94.0 201.8 91.0 214.0 C88.0 226.2 82.7 239.5 78.5 250.0 C74.3 260.5 69.9 269.0 66.0 277.0 C62.1 285.0 57.7 292.5 55.0 298.0 C52.3 303.5 50.8 308.0 50.0 310.0" fill="none" stroke="#666" stroke-width="0.70"/>
<path d="M96.7 33.0 C98.1 35.2 102.1 41.0 105.0 46.0 C107.9 51.0 111.0 56.8 114.0 63.0 C117.0 69.2 120.7 77.7 123.0 83.0 C125.3 88.3 127.2 93.0 128.0 95.0" fill="none" stroke="#666" stroke-width="0.70"/>
<path d="M101.6 23.0 C103.0 23.6 107.3 25.2 110.0 26.5 C112.7 27.8 115.7 29.2 118.0 30.5 C120.3 31.8 122.0 32.8 124.0 34.0 C126.0 35.2 129.0 37.3 130.0 38.0" fill="none" stroke="#666" stroke-width="0.70"/>
<path d="M99.0 15.0 C100.5 14.7 104.8 13.5 108.0 13.0 C111.2 12.5 115.0 12.3 118.0 12.0 C121.0 11.7 124.7 11.2 126.0 11.0" fill="none" stroke="#666" stroke-width="0.70"/>
<path d="M128.0 318.0 C127.2 319.7 125.2 322.7 123.0 328.0 C120.8 333.3 117.5 343.0 115.0 350.0 C112.5 357.0 110.2 363.8 108.0 370.0 C105.8 376.2 103.5 382.7 101.8 387.0 C100.1 391.3 98.6 394.5 98.0 396.0" fill="none" stroke="#666" stroke-width="0.70"/>
<line x1="88.8" y1="21.4" x2="77.9" y2="378.3" stroke="#2a2a2a" stroke-width="1.3" stroke-dasharray="1.3 3.2" stroke-linecap="butt"/>
<line x1="88.5" y1="21.4" x2="88.6" y2="362.0" stroke="#2a2a2a" stroke-width="1.3" stroke-dasharray="1.3 3.2" stroke-linecap="butt"/>
<line x1="88.8" y1="21.4" x2="108.0" y2="342.0" stroke="#2a2a2a" stroke-width="1.3" stroke-dasharray="1.3 3.2" stroke-linecap="butt"/>
</g>
<circle cx="88.8" cy="21.4" r="13.4" fill="#e6e614"/>
<line x1="88.8" y1="21.4" x2="88.8" y2="34.4" stroke="#555" stroke-width="1.2" stroke-dasharray="1.2 1.2"/>
<rect x="54.6" y="12.3" width="69.3" height="374.7" fill="none" stroke="#161616" stroke-width="1.25"/>
<path d="M54.6 21.4h2.6M123.9 21.4h-2.6M54.6 38.2h1.4M123.9 38.2h-1.4M54.6 55.0h1.4M123.9 55.0h-1.4M54.6 71.9h1.4M123.9 71.9h-1.4M54.6 88.7h2.6M123.9 88.7h-2.6M54.6 105.5h1.4M123.9 105.5h-1.4M54.6 122.4h1.4M123.9 122.4h-1.4M54.6 139.2h1.4M123.9 139.2h-1.4M54.6 156.0h2.6M123.9 156.0h-2.6M54.6 172.8h1.4M123.9 172.8h-1.4M54.6 189.7h1.4M123.9 189.7h-1.4M54.6 206.5h1.4M123.9 206.5h-1.4M54.6 223.3h2.6M123.9 223.3h-2.6M54.6 240.1h1.4M123.9 240.1h-1.4M54.6 256.9h1.4M123.9 256.9h-1.4M54.6 273.8h1.4M123.9 273.8h-1.4M54.6 290.6h2.6M123.9 290.6h-2.6M54.6 307.4h1.4M123.9 307.4h-1.4M54.6 324.2h1.4M123.9 324.2h-1.4M54.6 341.1h1.4M123.9 341.1h-1.4M54.6 357.9h2.6M123.9 357.9h-2.6M54.6 374.7h1.4M123.9 374.7h-1.4M54.2 387.0v-3.5M54.2 12.3v3.5M62.8 387.0v-1.8M62.8 12.3v1.8M71.5 387.0v-1.8M71.5 12.3v1.8M80.1 387.0v-1.8M80.1 12.3v1.8M88.8 387.0v-3.5M88.8 12.3v3.5M97.5 387.0v-1.8M97.5 12.3v1.8M106.1 387.0v-1.8M106.1 12.3v1.8M114.8 387.0v-1.8M114.8 12.3v1.8M123.4 387.0v-3.5M123.4 12.3v3.5" stroke="#111" stroke-width="1"/>
<text x="47.5" y="26.9" font-size="14.5" text-anchor="end" fill="#2a2a2a" textLength="20" lengthAdjust="spacingAndGlyphs">0.0</text>
<text x="47.5" y="94.2" font-size="14.5" text-anchor="end" fill="#2a2a2a" textLength="20" lengthAdjust="spacingAndGlyphs">0.2</text>
<text x="47.5" y="161.6" font-size="14.5" text-anchor="end" fill="#2a2a2a" textLength="20" lengthAdjust="spacingAndGlyphs">0.4</text>
<text x="47.5" y="228.9" font-size="14.5" text-anchor="end" fill="#2a2a2a" textLength="20" lengthAdjust="spacingAndGlyphs">0.6</text>
<text x="47.5" y="296.3" font-size="14.5" text-anchor="end" fill="#2a2a2a" textLength="20" lengthAdjust="spacingAndGlyphs">0.8</text>
<text x="47.5" y="363.7" font-size="14.5" text-anchor="end" fill="#2a2a2a" textLength="20" lengthAdjust="spacingAndGlyphs">1.0</text>
<text x="50.3" y="408.8" font-size="14.5" text-anchor="middle" fill="#2a2a2a" textLength="25" lengthAdjust="spacingAndGlyphs">&#8722;0.2</text>
<text x="88.2" y="408.8" font-size="14.5" text-anchor="middle" fill="#2a2a2a" textLength="20" lengthAdjust="spacingAndGlyphs">0.0</text>
<text x="122.7" y="408.8" font-size="14.5" text-anchor="middle" fill="#2a2a2a" textLength="20.5" lengthAdjust="spacingAndGlyphs">0.2</text>
<text x="88.5" y="426.8" font-size="14.5" text-anchor="middle" fill="#2a2a2a" textLength="55" lengthAdjust="spacingAndGlyphs">Y (HEE)</text>
<text transform="translate(71.2 209) rotate(-90)" font-size="14.5" text-anchor="middle" fill="#2a2a2a" textLength="58" lengthAdjust="spacingAndGlyphs">X (HEE)</text>
<text x="104.2" y="22.3" font-size="15.5" fill="#e4e41a" textLength="24.6" lengthAdjust="spacingAndGlyphs">Sun</text>
<path d="M80 264.6 Q84.5 268.5 89 265.6" fill="none" stroke="#2a3ad8" stroke-width="1.6"/>
<path d="M91 265 Q96.5 267.8 102 264.2" fill="none" stroke="#f01818" stroke-width="1.6"/>
<text x="66.6" y="283" font-size="11" fill="#3a46d8" textLength="21.5" lengthAdjust="spacingAndGlyphs">3.6&#186;</text>
<text x="91.7" y="283" font-size="11" fill="#f02020" textLength="22.5" lengthAdjust="spacingAndGlyphs">6.6&#186;</text>
<circle cx="89.2" cy="361.9" r="8.3" fill="#14f014"/>
<text x="64.8" y="353" font-size="11" fill="#28c83c" textLength="24.4" lengthAdjust="spacingAndGlyphs">Earth</text>
<path d="M104.2 341.8l1.9-3.4h3.8l1.9 3.4l-1.9 3.4h-3.8z" fill="#f01414" stroke="#f01414" stroke-width="0.8" stroke-linejoin="round"/>
<circle cx="77.9" cy="378.3" r="4.2" fill="#3446d2"/>
<text x="121.2" y="343.6" font-size="20" fill="#f01818">A</text>
<text x="59.5" y="383.8" font-size="20" fill="#3a46d8">B</text>
<text x="5.0" y="215.4" font-size="19" fill="#111">a)</text>
<text x="129.6" y="215.4" font-size="19" fill="#111">b)</text>
<text x="370.0" y="215.4" font-size="19" fill="#111">c)</text>
<line x1="361.8" y1="8.3" x2="361.8" y2="431" stroke="#222" stroke-width="1.2"/>
<rect x="156.4" y="7.60" width="3.6" height="37.80" fill="#08081a"/>
<rect x="156.4" y="45.10" width="3.6" height="18.30" fill="#0a0a38"/>
<rect x="156.4" y="63.10" width="3.6" height="20.30" fill="#0a0a62"/>
<rect x="156.4" y="83.10" width="3.6" height="34.80" fill="#0a16a8"/>
<rect x="156.4" y="117.60" width="3.6" height="37.80" fill="#0a50d6"/>
<rect x="156.4" y="155.10" width="3.6" height="19.30" fill="#0a88f0"/>
<rect x="156.4" y="174.10" width="3.6" height="18.30" fill="#4cb0f8"/>
<rect x="156.4" y="192.10" width="3.6" height="18.80" fill="#b6e0fa"/>
<rect x="534.7" y="8.30" width="3.6" height="24.60" fill="#1a0508"/>
<rect x="534.7" y="32.60" width="3.6" height="21.70" fill="#3a0a10"/>
<rect x="534.7" y="54.00" width="3.6" height="29.30" fill="#5e0a12"/>
<rect x="534.7" y="83.00" width="3.6" height="16.30" fill="#8a0c10"/>
<rect x="534.7" y="99.00" width="3.6" height="22.30" fill="#cc1010"/>
<rect x="534.7" y="121.00" width="3.6" height="21.90" fill="#dc3810"/>
<rect x="534.7" y="142.60" width="3.6" height="24.20" fill="#f8720e"/>
<rect x="534.7" y="166.50" width="3.6" height="22.80" fill="#fba232"/>
<rect x="534.7" y="189.00" width="3.6" height="21.80" fill="#fdd6a4"/>
<path d="M155.4 25.6h3.4" stroke="#111" stroke-width="1"/>
<text x="161.8" y="26.1" font-size="8.8" fill="#1e1e1e" stroke="#1e1e1e" stroke-width="0.32">1200</text>
<path d="M155.4 62.6h3.4" stroke="#111" stroke-width="1"/>
<text x="161.8" y="63.1" font-size="8.8" fill="#1e1e1e" stroke="#1e1e1e" stroke-width="0.32">1000</text>
<path d="M155.4 99.6h3.4" stroke="#111" stroke-width="1"/>
<text x="161.8" y="100.1" font-size="8.8" fill="#1e1e1e" stroke="#1e1e1e" stroke-width="0.32">800</text>
<path d="M155.4 136.6h3.4" stroke="#111" stroke-width="1"/>
<text x="161.8" y="137.1" font-size="8.8" fill="#1e1e1e" stroke="#1e1e1e" stroke-width="0.32">600</text>
<path d="M155.4 173.6h3.4" stroke="#111" stroke-width="1"/>
<text x="161.8" y="174.1" font-size="8.8" fill="#1e1e1e" stroke="#1e1e1e" stroke-width="0.32">400</text>
<path d="M533.6 30.6h3.4" stroke="#111" stroke-width="1"/>
<text x="539.0" y="31.1" font-size="8.8" fill="#1e1e1e" stroke="#1e1e1e" stroke-width="0.32">32</text>
<path d="M533.6 76.0h3.4" stroke="#111" stroke-width="1"/>
<text x="539.0" y="76.5" font-size="8.8" fill="#1e1e1e" stroke="#1e1e1e" stroke-width="0.32">24</text>
<path d="M533.6 121.4h3.4" stroke="#111" stroke-width="1"/>
<text x="539.0" y="121.9" font-size="8.8" fill="#1e1e1e" stroke="#1e1e1e" stroke-width="0.32">16</text>
<path d="M533.6 166.8h3.4" stroke="#111" stroke-width="1"/>
<text x="539.0" y="167.3" font-size="8.8" fill="#1e1e1e" stroke="#1e1e1e" stroke-width="0.32">8</text>
<text x="174.2" y="14.2" font-size="8.4" fill="#1e1e1e" stroke="#1e1e1e" stroke-width="0.32" textLength="19" lengthAdjust="spacingAndGlyphs">STEL</text>
<text x="552.8" y="15.0" font-size="8.4" fill="#1e1e1e" stroke="#1e1e1e" stroke-width="0.32" textLength="18.5" lengthAdjust="spacingAndGlyphs">SMEI</text>
<text x="164.3" y="212.8" font-size="8.6" fill="#1e1e1e" stroke="#1e1e1e" stroke-width="0.32" textLength="41.6" lengthAdjust="spacing">V (km s<tspan dy="-3" font-size="5.5">&#8722;1</tspan><tspan dy="3">)</tspan></text>
<text x="543.2" y="214.0" font-size="8.6" fill="#1e1e1e" stroke="#1e1e1e" stroke-width="0.32" textLength="46" lengthAdjust="spacing">n<tspan dy="-3.2" font-size="5">norm</tspan><tspan dy="3.2"> (cm</tspan><tspan dy="-3" font-size="5.5">&#8722;3</tspan><tspan dy="3">)</tspan></text>
<rect x="156.4" y="219.90" width="3.6" height="37.80" fill="#08081a"/>
<rect x="156.4" y="257.40" width="3.6" height="18.30" fill="#0a0a38"/>
<rect x="156.4" y="275.40" width="3.6" height="20.30" fill="#0a0a62"/>
<rect x="156.4" y="295.40" width="3.6" height="34.80" fill="#0a16a8"/>
<rect x="156.4" y="329.90" width="3.6" height="37.80" fill="#0a50d6"/>
<rect x="156.4" y="367.40" width="3.6" height="19.30" fill="#0a88f0"/>
<rect x="156.4" y="386.40" width="3.6" height="18.30" fill="#4cb0f8"/>
<rect x="156.4" y="404.40" width="3.6" height="18.80" fill="#b6e0fa"/>
<rect x="534.7" y="220.60" width="3.6" height="24.60" fill="#1a0508"/>
<rect x="534.7" y="244.90" width="3.6" height="21.70" fill="#3a0a10"/>
<rect x="534.7" y="266.30" width="3.6" height="29.30" fill="#5e0a12"/>
<rect x="534.7" y="295.30" width="3.6" height="16.30" fill="#8a0c10"/>
<rect x="534.7" y="311.30" width="3.6" height="22.30" fill="#cc1010"/>
<rect x="534.7" y="333.30" width="3.6" height="21.90" fill="#dc3810"/>
<rect x="534.7" y="354.90" width="3.6" height="24.20" fill="#f8720e"/>
<rect x="534.7" y="378.80" width="3.6" height="22.80" fill="#fba232"/>
<rect x="534.7" y="401.30" width="3.6" height="21.80" fill="#fdd6a4"/>
<path d="M155.4 237.9h3.4" stroke="#111" stroke-width="1"/>
<text x="161.8" y="238.4" font-size="8.8" fill="#1e1e1e" stroke="#1e1e1e" stroke-width="0.32">1200</text>
<path d="M155.4 274.9h3.4" stroke="#111" stroke-width="1"/>
<text x="161.8" y="275.4" font-size="8.8" fill="#1e1e1e" stroke="#1e1e1e" stroke-width="0.32">1000</text>
<path d="M155.4 311.9h3.4" stroke="#111" stroke-width="1"/>
<text x="161.8" y="312.4" font-size="8.8" fill="#1e1e1e" stroke="#1e1e1e" stroke-width="0.32">800</text>
<path d="M155.4 348.9h3.4" stroke="#111" stroke-width="1"/>
<text x="161.8" y="349.4" font-size="8.8" fill="#1e1e1e" stroke="#1e1e1e" stroke-width="0.32">600</text>
<path d="M155.4 385.9h3.4" stroke="#111" stroke-width="1"/>
<text x="161.8" y="386.4" font-size="8.8" fill="#1e1e1e" stroke="#1e1e1e" stroke-width="0.32">400</text>
<path d="M533.6 242.9h3.4" stroke="#111" stroke-width="1"/>
<text x="539.0" y="243.4" font-size="8.8" fill="#1e1e1e" stroke="#1e1e1e" stroke-width="0.32">32</text>
<path d="M533.6 288.3h3.4" stroke="#111" stroke-width="1"/>
<text x="539.0" y="288.8" font-size="8.8" fill="#1e1e1e" stroke="#1e1e1e" stroke-width="0.32">24</text>
<path d="M533.6 333.7h3.4" stroke="#111" stroke-width="1"/>
<text x="539.0" y="334.2" font-size="8.8" fill="#1e1e1e" stroke="#1e1e1e" stroke-width="0.32">16</text>
<path d="M533.6 379.1h3.4" stroke="#111" stroke-width="1"/>
<text x="539.0" y="379.6" font-size="8.8" fill="#1e1e1e" stroke="#1e1e1e" stroke-width="0.32">8</text>
<text x="174.2" y="226.5" font-size="8.4" fill="#1e1e1e" stroke="#1e1e1e" stroke-width="0.32" textLength="19" lengthAdjust="spacingAndGlyphs">STEL</text>
<text x="552.8" y="227.3" font-size="8.4" fill="#1e1e1e" stroke="#1e1e1e" stroke-width="0.32" textLength="18.5" lengthAdjust="spacingAndGlyphs">SMEI</text>
<text x="164.3" y="425.1" font-size="8.6" fill="#1e1e1e" stroke="#1e1e1e" stroke-width="0.32" textLength="41.6" lengthAdjust="spacing">V (km s<tspan dy="-3" font-size="5.5">&#8722;1</tspan><tspan dy="3">)</tspan></text>
<text x="543.2" y="426.3" font-size="8.6" fill="#1e1e1e" stroke="#1e1e1e" stroke-width="0.32" textLength="46" lengthAdjust="spacing">n<tspan dy="-3.2" font-size="5">norm</tspan><tspan dy="3.2"> (cm</tspan><tspan dy="-3" font-size="5.5">&#8722;3</tspan><tspan dy="3">)</tspan></text>
<text x="274.8" y="14.3" font-size="8.6" fill="#1e1e1e" stroke="#1e1e1e" stroke-width="0.32" textLength="80.0" lengthAdjust="spacingAndGlyphs">2007/05/28 00 UT</text>
<text x="275.0" y="227.3" font-size="8.6" fill="#1e1e1e" stroke="#1e1e1e" stroke-width="0.32" textLength="80.0" lengthAdjust="spacingAndGlyphs">2007/05/29 00 UT</text>
<text x="450.0" y="15.3" font-size="8.6" fill="#1e1e1e" stroke="#1e1e1e" stroke-width="0.32" textLength="80.0" lengthAdjust="spacingAndGlyphs">2007/05/26 00 UT</text>
<text x="656.6" y="16.9" font-size="8.6" fill="#1e1e1e" stroke="#1e1e1e" stroke-width="0.32" textLength="80.0" lengthAdjust="spacingAndGlyphs">2007/05/28 00 UT</text>
<text x="450.8" y="227.6" font-size="8.6" fill="#1e1e1e" stroke="#1e1e1e" stroke-width="0.32" textLength="80.0" lengthAdjust="spacingAndGlyphs">2007/05/27 00 UT</text>
<text x="653.2" y="227.2" font-size="8.6" fill="#1e1e1e" stroke="#1e1e1e" stroke-width="0.32" textLength="80.0" lengthAdjust="spacingAndGlyphs">2007/05/29 00 UT</text>
<text x="437.2" y="30.1" font-size="13.5" fill="#f41a1a" textLength="96.4" lengthAdjust="spacingAndGlyphs">coronal hole flow</text>
<text x="636.9" y="34.2" font-size="13.5" fill="#f41a1a" textLength="96.4" lengthAdjust="spacingAndGlyphs">coronal hole flow</text>
<text x="436.9" y="243.8" font-size="13.5" fill="#f41a1a" textLength="96.4" lengthAdjust="spacingAndGlyphs">coronal hole flow</text>
<text x="626.5" y="244.1" font-size="13.5" fill="#f41a1a" textLength="96.4" lengthAdjust="spacingAndGlyphs">coronal hole flow</text>
<line x1="501.8" y1="38.4" x2="467.6" y2="111.0" stroke="#f41a1a" stroke-width="1.1"/>
<polygon points="465.5,115.5 465.7,109.0 470.4,111.2" fill="#f41a1a"/>
<line x1="696.3" y1="43.6" x2="667.2" y2="109.8" stroke="#f41a1a" stroke-width="1.1"/>
<polygon points="665.2,114.4 665.2,107.9 670.0,110.0" fill="#f41a1a"/>
<line x1="702.5" y1="43.6" x2="690.6" y2="97.9" stroke="#f41a1a" stroke-width="1.1"/>
<polygon points="689.5,102.8 688.2,96.4 693.3,97.5" fill="#f41a1a"/>
<line x1="501.8" y1="255.6" x2="474.0" y2="311.2" stroke="#f41a1a" stroke-width="1.1"/>
<polygon points="471.8,315.7 472.2,309.2 476.8,311.5" fill="#f41a1a"/>
<line x1="695.6" y1="249.8" x2="667.2" y2="316.0" stroke="#f41a1a" stroke-width="1.1"/>
<polygon points="665.2,320.6 665.2,314.1 670.0,316.1" fill="#f41a1a"/>
<line x1="702.0" y1="249.8" x2="689.9" y2="304.1" stroke="#f41a1a" stroke-width="1.1"/>
<polygon points="688.8,309.0 687.6,302.6 692.6,303.7" fill="#f41a1a"/>
<text x="501.6" y="54.4" font-size="14" fill="#1a1a1a" textLength="31.6" lengthAdjust="spacingAndGlyphs">ICME</text>
<line x1="513.8" y1="56.9" x2="504.8" y2="79.9" stroke="#111" stroke-width="1.0"/>
<polygon points="503.0,84.6 502.8,78.1 507.6,80.0" fill="#111"/>
<text x="497.5" y="97.6" font-size="6.4" font-weight="bold" fill="#3a1a08" textLength="15" lengthAdjust="spacingAndGlyphs">ICME</text>
<text x="424.0" y="117.3" font-size="7.2" fill="#111" stroke="#111" stroke-width="0.25">Sun</text>
<text x="482.6" y="113.2" font-size="7" font-weight="bold" fill="#f02a2a">A</text>
<text x="497.8" y="112.6" font-size="7" fill="#6a8a1e">Earth</text>
<text x="499.2" y="121.2" font-size="7" font-weight="bold" fill="#2a2a86">B</text>
<text x="484.8" y="325.6" font-size="7" font-weight="bold" fill="#f02a2a">A</text>
<text x="500.2" y="334.4" font-size="7" font-weight="bold" fill="#2a2a86">B</text>
</svg>
</body></html>
